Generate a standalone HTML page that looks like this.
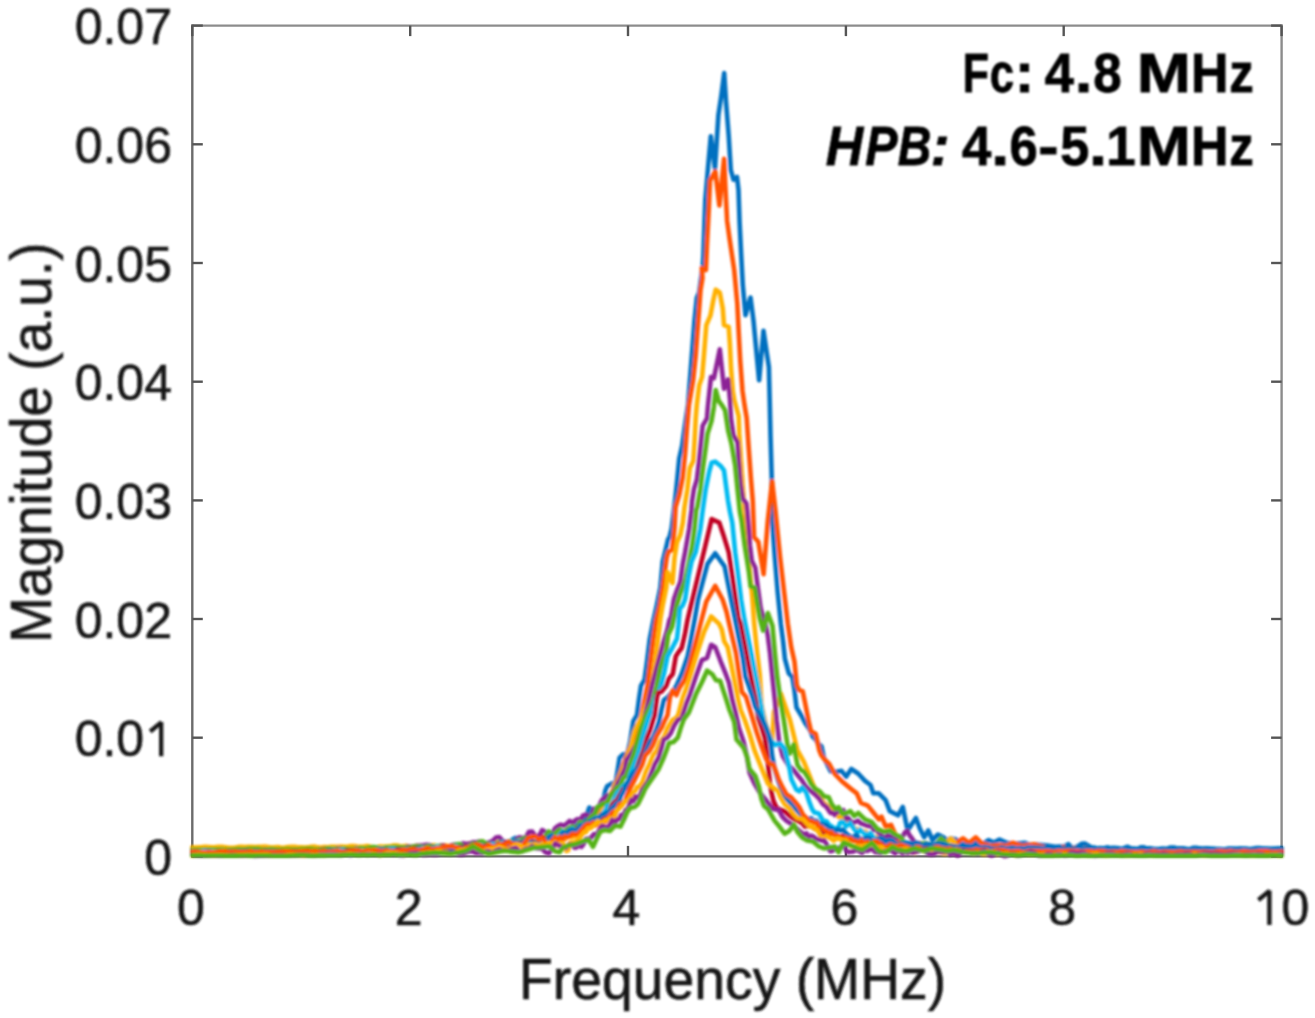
<!DOCTYPE html>
<html><head><meta charset="utf-8"><style>
html,body{margin:0;padding:0;background:#fff;width:1315px;height:1018px;overflow:hidden}
svg{display:block}
text{font-family:"Liberation Sans",sans-serif;stroke:#161616;stroke-width:0.6px}
</style></head><body>
<svg width="1315" height="1018" viewBox="0 0 1315 1018">
<defs>
<filter id="fc" x="-5%" y="-5%" width="110%" height="110%"><feGaussianBlur stdDeviation="0.9"/></filter>
<filter id="fa" x="-5%" y="-5%" width="110%" height="110%"><feGaussianBlur stdDeviation="0.7"/></filter>
<filter id="ft" x="-5%" y="-5%" width="110%" height="110%"><feGaussianBlur stdDeviation="0.8"/></filter>
</defs>
<rect width="1315" height="1018" fill="#fff"/>
<g filter="url(#fa)"><line x1="192.3" y1="25.6" x2="1281.6" y2="25.6" stroke="#8c8c8c" stroke-width="2.4" stroke-linecap="square"/><line x1="1281.6" y1="25.6" x2="1281.6" y2="856.4" stroke="#8c8c8c" stroke-width="2.4" stroke-linecap="square"/><line x1="192.3" y1="25.6" x2="192.3" y2="856.4" stroke="#6c6c6c" stroke-width="2.4" stroke-linecap="square"/><line x1="192.3" y1="856.4" x2="1281.6" y2="856.4" stroke="#6c6c6c" stroke-width="2.4" stroke-linecap="square"/><line x1="192.3" y1="856.4" x2="192.3" y2="845.9" stroke="#555555" stroke-width="2.4"/><line x1="192.3" y1="25.6" x2="192.3" y2="36.1" stroke="#555555" stroke-width="2.4"/><line x1="410.2" y1="856.4" x2="410.2" y2="845.9" stroke="#555555" stroke-width="2.4"/><line x1="410.2" y1="25.6" x2="410.2" y2="36.1" stroke="#555555" stroke-width="2.4"/><line x1="628.0" y1="856.4" x2="628.0" y2="845.9" stroke="#555555" stroke-width="2.4"/><line x1="628.0" y1="25.6" x2="628.0" y2="36.1" stroke="#555555" stroke-width="2.4"/><line x1="845.9" y1="856.4" x2="845.9" y2="845.9" stroke="#555555" stroke-width="2.4"/><line x1="845.9" y1="25.6" x2="845.9" y2="36.1" stroke="#555555" stroke-width="2.4"/><line x1="1063.7" y1="856.4" x2="1063.7" y2="845.9" stroke="#555555" stroke-width="2.4"/><line x1="1063.7" y1="25.6" x2="1063.7" y2="36.1" stroke="#555555" stroke-width="2.4"/><line x1="1281.6" y1="856.4" x2="1281.6" y2="845.9" stroke="#555555" stroke-width="2.4"/><line x1="1281.6" y1="25.6" x2="1281.6" y2="36.1" stroke="#555555" stroke-width="2.4"/><line x1="192.3" y1="856.4" x2="202.8" y2="856.4" stroke="#555555" stroke-width="2.4"/><line x1="1281.6" y1="856.4" x2="1271.1" y2="856.4" stroke="#555555" stroke-width="2.4"/><line x1="192.3" y1="737.7" x2="202.8" y2="737.7" stroke="#555555" stroke-width="2.4"/><line x1="1281.6" y1="737.7" x2="1271.1" y2="737.7" stroke="#555555" stroke-width="2.4"/><line x1="192.3" y1="619.0" x2="202.8" y2="619.0" stroke="#555555" stroke-width="2.4"/><line x1="1281.6" y1="619.0" x2="1271.1" y2="619.0" stroke="#555555" stroke-width="2.4"/><line x1="192.3" y1="500.4" x2="202.8" y2="500.4" stroke="#555555" stroke-width="2.4"/><line x1="1281.6" y1="500.4" x2="1271.1" y2="500.4" stroke="#555555" stroke-width="2.4"/><line x1="192.3" y1="381.7" x2="202.8" y2="381.7" stroke="#555555" stroke-width="2.4"/><line x1="1281.6" y1="381.7" x2="1271.1" y2="381.7" stroke="#555555" stroke-width="2.4"/><line x1="192.3" y1="263.0" x2="202.8" y2="263.0" stroke="#555555" stroke-width="2.4"/><line x1="1281.6" y1="263.0" x2="1271.1" y2="263.0" stroke="#555555" stroke-width="2.4"/><line x1="192.3" y1="144.3" x2="202.8" y2="144.3" stroke="#555555" stroke-width="2.4"/><line x1="1281.6" y1="144.3" x2="1271.1" y2="144.3" stroke="#555555" stroke-width="2.4"/><line x1="192.3" y1="25.6" x2="202.8" y2="25.6" stroke="#555555" stroke-width="2.4"/><line x1="1281.6" y1="25.6" x2="1271.1" y2="25.6" stroke="#555555" stroke-width="2.4"/></g>
<g filter="url(#fc)"><path d="M192.3 849.7 L195.6 850.1 L198.9 850.2 L202.2 849.7 L205.5 850.2 L208.8 850.2 L212.1 849.8 L215.4 849.7 L218.7 849.9 L222.0 849.8 L225.3 849.9 L228.6 849.8 L231.9 849.5 L235.2 849.9 L238.5 850.2 L241.8 850.3 L245.1 850.2 L248.4 850.1 L251.7 849.9 L255.0 849.5 L258.3 849.8 L261.6 850.2 L264.9 850.1 L268.2 849.5 L271.5 849.9 L274.8 849.9 L278.1 849.5 L281.4 849.3 L284.7 849.8 L288.0 849.5 L291.3 849.4 L294.6 849.2 L297.9 849.4 L301.2 849.3 L304.5 849.1 L307.8 848.9 L311.1 848.9 L314.4 849.7 L317.7 849.5 L321.0 848.9 L324.3 849.3 L327.6 849.5 L330.9 849.2 L334.2 849.8 L337.5 849.8 L340.8 849.6 L344.1 849.6 L347.4 848.8 L350.7 848.3 L354.0 848.5 L357.3 848.7 L360.6 849.2 L363.9 848.5 L367.2 848.6 L370.5 849.0 L373.8 848.0 L377.1 847.8 L380.4 848.3 L383.7 848.1 L387.0 847.7 L390.3 848.6 L393.6 848.7 L396.9 847.5 L400.2 847.1 L403.5 847.2 L406.8 847.8 L410.1 848.0 L413.4 847.7 L416.7 847.9 L420.0 847.3 L423.3 847.8 L426.6 846.8 L429.9 846.0 L433.2 846.2 L436.5 847.2 L439.8 847.5 L443.1 846.2 L446.4 846.6 L449.7 846.6 L453.0 846.5 L456.3 846.6 L459.6 845.9 L462.9 846.5 L466.2 845.4 L469.5 844.9 L472.8 845.1 L476.1 845.3 L479.4 845.8 L482.7 846.3 L486.0 845.6 L489.3 842.7 L492.6 842.3 L495.9 844.5 L499.2 844.3 L502.5 842.7 L505.8 844.4 L509.1 843.8 L512.4 839.6 L515.7 837.9 L519.0 838.8 L522.3 842.6 L525.6 842.6 L528.9 839.9 L532.2 840.5 L535.5 837.7 L538.8 837.5 L542.1 838.1 L545.4 836.9 L548.7 832.8 L552.0 832.6 L555.3 838.3 L558.6 838.5 L561.9 835.5 L565.2 835.9 L570.0 832.3 L572.8 829.5 L578.3 824.0 L583.8 821.3 L586.5 815.8 L589.3 807.5 L594.8 813.0 L599.6 807.5 L601.8 806.0 L603.5 799.6 L605.3 790.7 L607.1 786.3 L611.5 783.7 L615.9 781.9 L617.2 773.0 L618.6 764.2 L619.5 758.0 L623.0 754.5 L627.4 753.6 L630.1 742.1 L631.4 733.3 L633.3 721.1 L636.9 715.2 L639.2 697.5 L641.0 685.7 L644.5 679.8 L646.9 662.2 L649.8 638.6 L653.5 620.0 L656.8 605.2 L660.4 587.5 L662.7 561.6 L666.0 548.0 L668.0 539.2 L669.5 537.0 L671.6 528.6 L673.9 510.0 L675.6 495.2 L677.4 477.5 L679.2 458.7 L682.1 445.7 L685.0 425.0 L688.0 405.0 L690.9 367.5 L692.7 344.0 L694.5 320.4 L696.8 298.0 L699.1 292.7 L702.8 265.7 L703.4 254.9 L704.5 222.4 L705.3 200.0 L708.0 168.0 L710.8 136.4 L715.0 168.7 L718.4 115.0 L721.1 97.2 L724.2 73.1 L726.0 101.3 L728.7 135.7 L730.8 170.1 L733.5 179.7 L737.0 177.0 L738.5 190.0 L739.6 222.4 L741.2 254.9 L742.8 285.0 L745.5 315.2 L750.5 297.5 L753.5 320.8 L759.1 380.3 L763.5 330.8 L768.9 367.2 L769.7 400.0 L770.5 435.4 L771.8 480.2 L771.8 515.9 L774.8 557.2 L777.7 592.5 L780.8 623.6 L783.1 641.3 L784.9 658.9 L788.8 673.4 L792.3 677.0 L794.4 690.0 L796.5 707.5 L801.6 716.0 L805.1 723.0 L810.0 730.0 L812.8 736.9 L815.7 739.5 L818.3 743.8 L821.6 746.6 L823.8 757.5 L830.6 771.3 L836.6 771.8 L841.5 770.8 L846.1 776.7 L851.3 769.0 L858.1 773.5 L865.0 780.9 L870.5 785.0 L873.3 793.3 L878.8 793.3 L885.6 800.1 L889.8 811.1 L898.0 815.3 L902.8 807.0 L907.6 830.4 L915.9 818.0 L920.0 829.0 L924.2 837.3 L928.3 830.4 L932.4 840.0 L937.9 834.5 L943.4 837.3 L946.6 840.1 L951.0 838.5 L955.7 839.2 L961.2 843.8 L970.0 844.5 L978.0 842.5 L983.0 844.0 L988.5 840.1 L994.0 842.5 L999.5 839.5 L1006.8 842.9 L1015.0 843.8 L1025.0 842.8 L1030.0 845.0 L1036.0 844.5 L1047.0 845.6 L1055.0 846.8 L1065.0 846.2 L1068.3 844.2 L1071.6 847.6 L1074.9 847.9 L1078.2 846.1 L1081.5 843.9 L1084.8 843.6 L1088.1 845.4 L1091.4 847.5 L1094.7 847.6 L1098.0 848.9 L1101.3 849.9 L1104.6 848.0 L1107.9 847.3 L1111.2 850.0 L1114.5 850.5 L1117.8 849.2 L1121.1 849.7 L1124.4 848.0 L1127.7 846.7 L1131.0 848.5 L1134.3 850.2 L1137.6 849.3 L1140.9 847.2 L1144.2 847.3 L1147.5 849.8 L1150.8 849.7 L1154.1 849.3 L1157.4 849.9 L1160.7 850.4 L1164.0 849.9 L1167.3 848.6 L1170.6 847.5 L1173.9 847.6 L1177.2 848.4 L1180.5 848.7 L1183.8 849.6 L1187.1 849.3 L1190.4 849.2 L1193.7 847.7 L1197.0 847.9 L1200.3 849.5 L1203.6 849.2 L1206.9 848.6 L1210.2 849.0 L1213.5 848.8 L1216.8 849.3 L1220.1 849.9 L1223.4 849.5 L1226.7 849.4 L1230.0 849.0 L1233.3 848.9 L1236.6 849.0 L1239.9 848.6 L1243.2 849.2 L1246.5 850.0 L1249.8 849.7 L1253.1 848.8 L1256.4 848.1 L1259.7 848.1 L1263.0 848.6 L1266.3 848.6 L1269.6 848.7 L1272.9 848.8 L1276.2 849.2 L1279.5 848.8 L1281.6 849.1" fill="none" stroke="#0070C0" stroke-width="4.6" stroke-linejoin="round" stroke-linecap="round"/>
<path d="M192.3 850.7 L195.6 850.5 L198.9 850.4 L202.2 850.8 L205.5 851.0 L208.8 851.1 L212.1 851.1 L215.4 850.7 L218.7 850.3 L222.0 850.5 L225.3 851.0 L228.6 850.8 L231.9 850.9 L235.2 851.1 L238.5 851.0 L241.8 850.5 L245.1 850.7 L248.4 851.0 L251.7 851.1 L255.0 850.8 L258.3 851.2 L261.6 851.2 L264.9 850.9 L268.2 850.9 L271.5 851.1 L274.8 850.7 L278.1 850.5 L281.4 850.7 L284.7 850.4 L288.0 850.7 L291.3 850.8 L294.6 850.6 L297.9 851.0 L301.2 850.6 L304.5 850.1 L307.8 850.4 L311.1 850.7 L314.4 850.2 L317.7 850.6 L321.0 850.6 L324.3 850.9 L327.6 850.7 L330.9 849.9 L334.2 849.9 L337.5 850.1 L340.8 850.3 L344.1 850.3 L347.4 849.5 L350.7 849.5 L354.0 850.3 L357.3 850.7 L360.6 850.5 L363.9 849.6 L367.2 849.8 L370.5 849.3 L373.8 849.7 L377.1 849.6 L380.4 850.1 L383.7 849.9 L387.0 849.2 L390.3 849.0 L393.6 849.7 L396.9 849.5 L400.2 849.5 L403.5 848.4 L406.8 848.1 L410.1 847.7 L413.4 848.3 L416.7 849.3 L420.0 848.2 L423.3 847.1 L426.6 847.8 L429.9 848.8 L433.2 849.0 L436.5 848.6 L439.8 847.1 L443.1 847.2 L446.4 847.2 L449.7 847.1 L453.0 846.9 L456.3 846.2 L459.6 847.9 L462.9 848.2 L466.2 846.9 L469.5 845.0 L472.8 844.1 L476.1 846.0 L479.4 848.1 L482.7 848.4 L486.0 847.9 L489.3 847.7 L492.6 845.9 L495.9 844.0 L499.2 845.2 L502.5 845.6 L505.8 845.2 L509.1 845.6 L512.4 846.0 L515.7 845.2 L519.0 842.9 L522.3 842.8 L525.6 839.5 L528.9 841.3 L532.2 841.1 L535.5 838.4 L538.8 838.3 L542.1 838.3 L545.4 840.2 L548.7 839.7 L552.0 839.7 L555.0 836.0 L557.3 837.6 L559.7 835.7 L562.0 838.0 L564.7 839.1 L567.3 832.0 L570.0 834.0 L572.7 833.0 L575.3 829.8 L578.0 829.0 L580.3 830.8 L582.7 823.7 L585.0 825.0 L587.3 821.2 L589.7 819.3 L592.0 820.0 L595.0 814.8 L598.0 813.0 L601.0 809.7 L604.0 803.0 L607.0 796.3 L610.0 795.0 L612.5 791.2 L615.0 786.0 L620.0 774.0 L625.0 760.0 L629.0 750.0 L633.0 742.0 L636.5 734.0 L640.4 721.1 L643.9 703.4 L647.5 685.7 L650.4 662.2 L653.4 638.6 L656.2 620.0 L659.8 605.2 L662.7 587.5 L665.1 569.8 L666.8 556.9 L668.6 551.6 L672.2 549.8 L674.5 528.6 L675.6 507.0 L679.2 495.2 L682.7 477.5 L685.1 453.9 L686.8 430.4 L688.9 405.0 L693.3 379.3 L695.7 355.8 L697.4 332.2 L699.2 308.6 L700.5 290.0 L702.5 278.0 L701.8 268.0 L705.9 270.0 L707.0 244.3 L708.8 208.9 L710.0 180.6 L715.3 171.5 L719.4 205.4 L724.1 158.8 L725.3 185.4 L727.1 220.7 L729.5 238.4 L734.2 270.0 L737.3 303.6 L738.7 332.2 L740.2 360.0 L742.5 391.0 L744.5 405.0 L746.7 418.0 L748.5 445.0 L750.8 477.0 L752.8 501.1 L754.1 537.1 L758.3 541.8 L763.6 574.2 L767.7 521.8 L772.1 481.3 L775.4 510.0 L780.1 557.2 L784.6 596.0 L787.8 623.6 L791.2 647.0 L794.5 661.8 L796.8 685.3 L799.2 690.1 L802.7 691.2 L805.1 703.0 L808.6 720.7 L811.0 731.3 L815.7 733.7 L819.2 750.1 L821.0 754.8 L825.0 760.0 L829.3 764.0 L834.8 774.0 L843.0 782.3 L851.3 789.1 L856.8 793.3 L860.9 802.9 L867.8 805.6 L873.3 812.5 L878.8 819.4 L881.5 816.6 L885.6 826.3 L891.1 824.9 L895.3 834.5 L898.0 841.0 L904.0 844.0 L910.0 845.5 L920.0 843.5 L930.0 846.0 L940.0 844.0 L950.0 845.5 L956.0 843.0 L963.0 838.3 L969.0 843.0 L975.8 837.4 L981.2 842.9 L990.0 846.0 L1000.0 845.0 L1006.0 846.0 L1012.5 842.8 L1022.0 846.0 L1034.4 844.2 L1045.0 848.0 L1060.0 849.5 L1063.3 847.2 L1066.6 851.9 L1069.9 852.1 L1073.2 848.4 L1076.5 848.2 L1079.8 850.6 L1083.1 848.8 L1086.4 848.7 L1089.7 848.3 L1093.0 848.5 L1096.3 850.9 L1099.6 851.9 L1102.9 851.0 L1106.2 851.0 L1109.5 849.6 L1112.8 849.3 L1116.1 849.9 L1119.4 849.9 L1122.7 851.7 L1126.0 851.0 L1129.3 851.7 L1132.6 851.1 L1135.9 850.8 L1139.2 850.0 L1142.5 849.8 L1145.8 850.5 L1149.1 850.4 L1152.4 849.7 L1155.7 851.0 L1159.0 851.0 L1162.3 851.8 L1165.6 852.6 L1168.9 852.7 L1172.2 851.4 L1175.5 850.5 L1178.8 850.2 L1182.1 851.1 L1185.4 851.2 L1188.7 851.1 L1192.0 850.8 L1195.3 850.4 L1198.6 850.6 L1201.9 850.8 L1205.2 851.7 L1208.5 850.6 L1211.8 850.5 L1215.1 850.6 L1218.4 850.6 L1221.7 851.1 L1225.0 850.6 L1228.3 850.0 L1231.6 850.4 L1234.9 851.0 L1238.2 850.8 L1241.5 850.3 L1244.8 850.4 L1248.1 850.7 L1251.4 851.7 L1254.7 851.6 L1258.0 852.1 L1261.3 851.9 L1264.6 851.3 L1267.9 851.7 L1271.2 851.7 L1274.5 851.9 L1277.8 852.1 L1281.1 851.5 L1281.6 851.5" fill="none" stroke="#FF5200" stroke-width="4.6" stroke-linejoin="round" stroke-linecap="round"/>
<path d="M192.3 847.3 L195.6 847.5 L198.9 847.3 L202.2 847.1 L205.5 846.8 L208.8 847.0 L212.1 847.2 L215.4 847.1 L218.7 846.8 L222.0 846.9 L225.3 847.2 L228.6 847.7 L231.9 847.8 L235.2 847.6 L238.5 846.9 L241.8 846.9 L245.1 847.1 L248.4 846.8 L251.7 846.9 L255.0 847.1 L258.3 846.7 L261.6 846.8 L264.9 846.6 L268.2 847.0 L271.5 847.5 L274.8 847.2 L278.1 847.1 L281.4 847.7 L284.7 847.6 L288.0 847.0 L291.3 846.9 L294.6 846.9 L297.9 847.3 L301.2 847.3 L304.5 847.5 L307.8 847.4 L311.1 846.7 L314.4 846.6 L317.7 847.4 L321.0 847.5 L324.3 847.0 L327.6 847.2 L330.9 846.7 L334.2 846.7 L337.5 846.9 L340.8 846.6 L344.1 846.8 L347.4 846.7 L350.7 846.1 L354.0 846.1 L357.3 846.6 L360.6 846.8 L363.9 846.6 L367.2 846.1 L370.5 846.7 L373.8 847.6 L377.1 847.2 L380.4 846.6 L383.7 846.8 L387.0 846.6 L390.3 846.4 L393.6 845.6 L396.9 845.5 L400.2 846.5 L403.5 846.2 L406.8 845.8 L410.1 847.1 L413.4 846.7 L416.7 845.8 L420.0 846.2 L423.3 846.8 L426.6 846.4 L429.9 846.1 L433.2 845.2 L436.5 846.3 L439.8 846.1 L443.1 845.3 L446.4 845.6 L449.7 847.0 L453.0 847.0 L456.3 845.6 L459.6 846.0 L462.9 845.1 L466.2 844.5 L469.5 843.3 L472.8 843.8 L476.1 844.0 L479.4 843.5 L482.7 846.0 L486.0 846.8 L489.3 846.5 L492.6 844.4 L495.9 842.3 L499.2 842.0 L502.5 841.3 L505.8 842.7 L509.1 842.8 L512.4 842.3 L515.7 844.6 L519.0 845.7 L522.3 846.0 L525.6 843.2 L528.9 841.8 L532.2 839.3 L535.5 840.4 L538.8 842.3 L542.1 841.0 L545.4 842.9 L548.7 840.6 L552.0 835.8 L555.0 840.0 L557.8 837.2 L560.5 840.7 L563.2 837.0 L566.0 838.0 L568.5 835.9 L571.0 837.1 L573.5 836.9 L576.0 833.0 L579.0 831.1 L582.0 831.8 L585.0 827.0 L587.5 824.1 L590.0 820.7 L592.5 821.9 L595.0 818.0 L597.7 817.4 L600.3 813.1 L603.0 807.0 L605.3 802.8 L607.7 797.3 L610.0 795.0 L612.3 792.5 L614.7 784.1 L617.0 783.0 L623.0 768.0 L627.0 757.0 L630.9 746.5 L632.7 737.7 L635.0 730.0 L640.0 720.0 L643.9 711.0 L647.5 701.0 L651.6 685.7 L655.1 662.2 L658.1 638.6 L660.5 618.0 L662.7 605.2 L666.3 587.5 L667.5 572.0 L672.5 583.0 L674.5 558.0 L676.9 542.7 L680.4 534.5 L682.8 522.7 L684.5 507.0 L687.4 489.3 L689.8 468.1 L693.3 461.0 L694.5 442.2 L695.7 418.6 L696.8 405.0 L699.2 385.2 L702.1 377.0 L703.9 355.8 L706.3 325.1 L710.4 315.7 L713.3 300.3 L715.7 289.7 L719.8 292.7 L722.8 308.6 L724.0 325.1 L728.7 326.9 L729.9 344.0 L731.0 367.5 L732.8 391.1 L734.3 400.0 L738.7 416.2 L739.3 433.9 L741.0 460.0 L743.0 490.0 L745.5 520.0 L748.0 550.0 L750.5 578.0 L752.5 600.0 L754.2 623.6 L757.2 653.0 L759.8 675.0 L761.5 705.0 L766.0 725.0 L772.0 742.0 L774.0 712.0 L781.0 694.0 L790.0 720.0 L797.4 750.1 L803.9 761.9 L809.1 774.7 L813.0 784.6 L818.0 795.0 L824.0 803.0 L830.0 808.0 L832.9 811.9 L835.7 813.1 L838.6 817.0 L841.8 818.4 L845.0 820.0 L847.3 821.2 L849.7 823.7 L852.0 826.0 L854.7 828.7 L857.3 829.1 L860.0 830.0 L862.7 831.4 L865.3 831.5 L868.0 834.0 L870.7 836.6 L873.3 836.7 L876.0 837.0 L878.7 837.9 L881.3 837.3 L884.0 840.0 L886.7 840.9 L889.3 843.2 L892.0 842.0 L894.7 845.0 L897.3 843.1 L900.0 846.0 L902.5 845.5 L905.0 845.0 L907.5 849.3 L910.0 848.0 L912.5 849.3 L915.0 845.5 L917.5 846.0 L920.0 847.0 L922.5 847.5 L925.0 846.5 L927.5 847.0 L930.0 849.0 L932.5 849.9 L935.0 849.9 L937.5 848.2 L940.0 847.0 L943.0 845.4 L946.0 845.0 L948.5 840.2 L951.0 838.5 L953.5 840.8 L956.0 846.0 L959.0 847.6 L962.0 850.0 L965.0 849.0 L968.3 848.3 L971.6 847.6 L974.9 848.7 L978.2 850.5 L981.5 847.7 L984.8 849.0 L988.1 850.2 L991.4 849.6 L994.7 852.5 L998.0 853.0 L1001.3 850.9 L1004.6 848.6 L1007.9 848.4 L1011.2 848.5 L1014.5 848.2 L1017.8 848.8 L1021.1 851.7 L1024.4 851.4 L1027.7 849.7 L1031.0 851.7 L1034.3 851.8 L1037.6 851.9 L1040.9 850.9 L1044.2 851.2 L1047.5 849.5 L1050.8 849.3 L1054.1 850.8 L1057.4 851.4 L1060.7 851.1 L1064.0 851.6 L1067.3 851.2 L1070.6 852.0 L1073.9 851.6 L1077.2 852.1 L1080.5 851.6 L1083.8 850.0 L1087.1 849.5 L1090.4 850.7 L1093.7 851.7 L1097.0 851.4 L1100.3 851.3 L1103.6 851.0 L1106.9 851.7 L1110.2 850.9 L1113.5 850.1 L1116.8 849.8 L1120.1 850.0 L1123.4 850.0 L1126.7 849.9 L1130.0 850.0 L1133.3 851.3 L1136.6 851.8 L1139.9 851.5 L1143.2 852.3 L1146.5 852.4 L1149.8 851.6 L1153.1 851.3 L1156.4 851.7 L1159.7 851.0 L1163.0 850.9 L1166.3 851.7 L1169.6 851.6 L1172.9 851.7 L1176.2 851.4 L1179.5 851.3 L1182.8 850.7 L1186.1 851.1 L1189.4 852.0 L1192.7 852.0 L1196.0 851.6 L1199.3 851.6 L1202.6 852.1 L1205.9 852.0 L1209.2 851.2 L1212.5 851.0 L1215.8 851.1 L1219.1 851.3 L1222.4 851.8 L1225.7 851.6 L1229.0 851.8 L1232.3 851.8 L1235.6 851.3 L1238.9 851.1 L1242.2 851.3 L1245.5 851.9 L1248.8 852.1 L1252.1 851.9 L1255.4 851.5 L1258.7 851.6 L1262.0 851.8 L1265.3 851.4 L1268.6 851.4 L1271.9 851.4 L1275.2 851.5 L1278.5 851.5 L1281.6 851.8" fill="none" stroke="#FFB000" stroke-width="4.6" stroke-linejoin="round" stroke-linecap="round"/>
<path d="M192.3 850.8 L195.6 850.6 L198.9 850.5 L202.2 850.3 L205.5 850.1 L208.8 850.6 L212.1 850.6 L215.4 850.2 L218.7 850.4 L222.0 850.5 L225.3 850.6 L228.6 850.7 L231.9 850.6 L235.2 850.2 L238.5 850.2 L241.8 850.3 L245.1 849.7 L248.4 849.4 L251.7 849.7 L255.0 850.2 L258.3 850.0 L261.6 849.7 L264.9 849.5 L268.2 849.7 L271.5 850.2 L274.8 849.9 L278.1 850.3 L281.4 850.1 L284.7 849.5 L288.0 849.4 L291.3 850.0 L294.6 850.0 L297.9 850.1 L301.2 849.6 L304.5 849.9 L307.8 850.1 L311.1 850.1 L314.4 849.8 L317.7 849.8 L321.0 849.4 L324.3 849.0 L327.6 848.9 L330.9 849.3 L334.2 849.4 L337.5 848.6 L340.8 848.8 L344.1 849.6 L347.4 849.4 L350.7 849.2 L354.0 849.0 L357.3 848.4 L360.6 848.5 L363.9 848.7 L367.2 849.0 L370.5 848.8 L373.8 849.0 L377.1 849.2 L380.4 848.7 L383.7 848.8 L387.0 848.7 L390.3 848.9 L393.6 848.0 L396.9 847.6 L400.2 848.5 L403.5 848.1 L406.8 846.8 L410.1 846.8 L413.4 846.7 L416.7 845.8 L420.0 845.6 L423.3 845.3 L426.6 844.9 L429.9 845.3 L433.2 847.0 L436.5 847.1 L439.8 845.9 L443.1 845.5 L446.4 846.5 L449.7 846.2 L453.0 844.8 L456.3 844.6 L459.6 845.2 L462.9 843.2 L466.2 843.9 L469.5 843.7 L472.8 842.4 L476.1 842.2 L479.4 841.5 L482.7 842.7 L486.0 843.0 L489.3 842.6 L492.6 840.9 L495.9 837.6 L499.2 837.1 L502.5 840.8 L505.8 842.5 L509.1 841.4 L512.4 841.9 L515.7 840.6 L519.0 837.4 L522.3 837.7 L525.6 837.8 L528.9 831.9 L532.2 831.6 L535.5 836.4 L538.8 836.3 L542.1 830.1 L545.4 831.7 L548.7 835.3 L552.0 834.2 L555.0 828.4 L557.9 826.1 L560.8 824.6 L563.6 825.7 L566.5 823.9 L569.6 820.9 L572.7 823.0 L575.1 820.4 L577.6 819.0 L580.0 820.0 L582.9 815.7 L585.7 814.5 L588.6 816.0 L591.3 816.9 L593.9 808.7 L596.6 809.8 L599.2 805.6 L601.9 800.0 L604.5 798.3 L607.1 795.7 L609.8 796.5 L611.9 794.0 L614.0 790.0 L619.5 780.1 L624.8 768.6 L626.5 759.8 L632.0 752.0 L636.0 745.0 L639.0 738.0 L642.8 730.0 L645.1 715.2 L649.2 697.5 L653.4 679.8 L658.1 662.2 L662.8 644.5 L667.5 629.1 L669.4 620.0 L671.0 617.0 L673.9 599.3 L676.3 592.2 L680.4 581.6 L682.8 564.0 L685.1 552.2 L689.2 528.6 L691.5 510.0 L692.1 501.1 L693.9 489.3 L696.8 479.9 L699.2 459.8 L701.6 436.3 L702.7 425.6 L706.9 418.6 L708.0 405.0 L711.0 377.0 L713.9 378.2 L719.8 349.3 L724.0 388.8 L728.1 379.3 L730.0 400.0 L731.0 418.6 L733.4 435.1 L737.5 442.2 L738.7 459.8 L740.5 483.4 L742.8 498.7 L746.4 503.5 L747.3 512.0 L750.0 545.4 L751.8 560.7 L755.3 567.8 L757.7 586.6 L760.6 607.8 L763.0 616.1 L765.4 623.6 L767.8 635.4 L770.0 653.0 L772.3 676.0 L774.7 699.0 L776.7 720.5 L779.2 741.9 L782.7 756.0 L788.6 765.5 L793.4 769.8 L797.3 774.7 L801.3 779.6 L805.2 785.5 L810.1 790.5 L815.0 794.4 L818.9 798.3 L822.9 804.2 L826.8 807.2 L828.8 810.5 L830.7 813.0 L832.7 812.8 L834.7 815.0 L836.9 811.7 L839.0 812.0 L841.2 810.4 L843.5 810.1 L846.4 818.9 L848.4 818.2 L850.4 820.9 L852.7 823.3 L855.0 822.0 L858.0 820.7 L860.9 823.5 L863.6 824.3 L866.4 825.5 L869.1 826.3 L871.4 825.0 L873.7 830.0 L876.0 829.0 L878.3 832.6 L880.6 833.7 L882.9 837.3 L885.3 838.0 L887.6 835.0 L890.0 836.0 L892.3 835.9 L894.7 837.0 L897.0 838.0 L900.0 836.7 L903.0 836.0 L905.1 832.0 L907.3 831.0 L909.6 835.4 L911.9 838.3 L915.0 842.8 L918.0 843.0 L920.3 843.3 L922.7 845.8 L925.0 846.0 L927.5 847.8 L930.0 844.7 L932.5 849.2 L935.0 847.5 L937.5 849.1 L940.0 849.1 L942.5 850.7 L945.0 849.0 L947.5 848.3 L950.0 850.1 L952.5 847.8 L955.0 850.0 L958.3 849.4 L961.6 851.0 L964.9 849.1 L968.2 849.9 L971.5 853.5 L974.8 853.9 L978.1 852.0 L981.4 852.4 L984.7 852.4 L988.0 848.8 L991.3 848.6 L994.6 850.5 L997.9 853.2 L1001.2 853.7 L1004.5 852.7 L1007.8 852.2 L1011.1 850.1 L1014.4 851.0 L1017.7 851.8 L1021.0 851.8 L1024.3 850.2 L1027.6 850.0 L1030.9 850.9 L1034.2 851.7 L1037.5 851.1 L1040.8 851.5 L1044.1 852.3 L1047.4 853.0 L1050.7 853.4 L1054.0 851.5 L1057.3 851.0 L1060.6 853.0 L1063.9 853.3 L1067.2 853.2 L1070.5 852.5 L1073.8 852.2 L1077.1 851.9 L1080.4 852.8 L1083.7 852.8 L1087.0 852.4 L1090.3 852.5 L1093.6 852.1 L1096.9 851.3 L1100.2 851.6 L1103.5 852.2 L1106.8 853.0 L1110.1 852.4 L1113.4 851.4 L1116.7 851.4 L1120.0 851.2 L1123.3 851.5 L1126.6 852.4 L1129.9 852.4 L1133.2 852.3 L1136.5 851.8 L1139.8 852.5 L1143.1 853.5 L1146.4 853.5 L1149.7 853.2 L1153.0 853.1 L1156.3 852.0 L1159.6 852.0 L1162.9 852.9 L1166.2 853.0 L1169.5 852.1 L1172.8 852.7 L1176.1 852.9 L1179.4 852.4 L1182.7 852.1 L1186.0 852.8 L1189.3 853.4 L1192.6 853.2 L1195.9 852.5 L1199.2 852.5 L1202.5 852.7 L1205.8 852.8 L1209.1 852.3 L1212.4 851.9 L1215.7 851.7 L1219.0 852.0 L1222.3 852.9 L1225.6 853.3 L1228.9 853.0 L1232.2 852.1 L1235.5 852.1 L1238.8 852.3 L1242.1 852.1 L1245.4 852.5 L1248.7 852.8 L1252.0 852.7 L1255.3 852.5 L1258.6 852.4 L1261.9 852.7 L1265.2 852.9 L1268.5 852.5 L1271.8 852.5 L1275.1 852.8 L1278.4 852.4 L1281.6 851.8" fill="none" stroke="#8C2496" stroke-width="4.6" stroke-linejoin="round" stroke-linecap="round"/>
<path d="M192.3 849.8 L195.6 849.8 L198.9 849.8 L202.2 849.8 L205.5 849.9 L208.8 849.5 L212.1 849.5 L215.4 849.5 L218.7 849.4 L222.0 849.4 L225.3 849.7 L228.6 849.8 L231.9 849.7 L235.2 849.4 L238.5 849.1 L241.8 849.4 L245.1 849.2 L248.4 848.8 L251.7 848.9 L255.0 848.9 L258.3 848.8 L261.6 849.3 L264.9 849.7 L268.2 849.4 L271.5 849.1 L274.8 849.2 L278.1 849.6 L281.4 849.6 L284.7 849.2 L288.0 849.1 L291.3 849.6 L294.6 849.6 L297.9 849.5 L301.2 849.0 L304.5 849.1 L307.8 848.9 L311.1 848.9 L314.4 849.3 L317.7 849.4 L321.0 849.7 L324.3 849.3 L327.6 848.4 L330.9 848.6 L334.2 848.7 L337.5 849.2 L340.8 849.1 L344.1 848.6 L347.4 849.1 L350.7 849.0 L354.0 849.1 L357.3 848.7 L360.6 848.0 L363.9 848.2 L367.2 848.0 L370.5 847.3 L373.8 847.1 L377.1 847.5 L380.4 848.5 L383.7 848.0 L387.0 847.3 L390.3 847.2 L393.6 847.1 L396.9 847.1 L400.2 847.2 L403.5 847.4 L406.8 847.7 L410.1 847.9 L413.4 846.6 L416.7 846.5 L420.0 846.8 L423.3 847.6 L426.6 846.6 L429.9 846.2 L433.2 846.9 L436.5 846.0 L439.8 846.4 L443.1 847.1 L446.4 847.2 L449.7 846.0 L453.0 845.7 L456.3 844.6 L459.6 844.0 L462.9 846.1 L466.2 847.1 L469.5 846.1 L472.8 843.8 L476.1 844.1 L479.4 841.8 L482.7 841.4 L486.0 843.9 L489.3 844.3 L492.6 844.3 L495.9 844.8 L499.2 842.6 L502.5 842.9 L505.8 843.5 L509.1 841.5 L512.4 841.1 L515.7 842.1 L519.0 840.1 L522.3 839.6 L525.6 837.8 L528.9 840.1 L532.2 840.6 L535.5 837.6 L538.8 839.7 L542.1 841.5 L545.4 836.5 L548.7 831.5 L552.0 834.7 L555.0 834.0 L557.5 831.3 L560.0 829.5 L562.5 831.4 L565.0 831.0 L567.5 829.2 L570.0 827.4 L572.5 826.6 L575.0 828.0 L577.5 828.0 L580.0 822.1 L582.5 824.2 L585.0 822.0 L587.3 822.1 L589.7 818.6 L592.0 816.0 L594.7 814.9 L597.3 806.9 L600.0 806.0 L602.9 803.6 L605.9 804.3 L608.8 799.6 L611.4 794.2 L614.0 792.0 L617.1 787.4 L620.3 786.3 L623.0 778.4 L626.5 775.7 L630.1 764.2 L633.6 755.4 L637.1 742.1 L640.7 728.8 L644.0 720.0 L647.5 712.0 L651.0 705.0 L653.4 699.9 L656.9 685.7 L660.4 668.0 L666.3 650.4 L668.1 635.0 L672.2 626.8 L673.6 620.0 L676.9 605.2 L680.4 593.4 L685.1 581.6 L688.7 564.0 L692.2 546.3 L694.6 528.6 L696.3 510.0 L697.4 507.0 L700.4 489.3 L703.3 465.7 L705.7 448.0 L707.5 433.9 L711.6 420.9 L713.9 406.8 L715.7 390.0 L718.7 400.9 L722.2 405.6 L725.1 410.3 L728.1 430.4 L731.6 444.5 L735.2 465.7 L737.5 489.3 L739.9 512.0 L741.5 520.0 L744.7 545.4 L748.8 571.3 L750.6 586.6 L754.7 587.8 L757.7 607.0 L759.6 617.7 L763.1 630.6 L767.8 613.0 L772.5 625.9 L774.9 653.0 L777.2 676.6 L780.5 700.0 L783.9 720.7 L787.4 744.3 L789.8 753.7 L793.9 744.3 L795.7 756.0 L797.5 765.0 L801.0 770.0 L804.2 771.8 L808.1 777.7 L811.1 783.6 L815.0 788.5 L819.9 791.4 L823.9 796.3 L828.8 797.3 L831.7 804.2 L835.6 809.1 L838.6 807.2 L842.5 814.0 L846.4 813.0 L850.4 811.1 L854.3 816.0 L858.2 813.0 L865.0 819.4 L871.9 822.1 L877.4 829.0 L884.3 831.8 L889.8 830.4 L895.3 834.5 L900.8 837.3 L904.6 842.9 L915.0 845.0 L925.0 843.0 L935.0 846.0 L941.1 838.3 L948.0 845.0 L958.0 847.5 L970.0 849.5 L973.3 848.0 L976.6 849.5 L979.9 850.0 L983.2 851.4 L986.5 849.4 L989.8 850.8 L993.1 849.9 L996.4 851.1 L999.7 851.0 L1003.0 848.5 L1006.3 849.2 L1009.6 851.5 L1012.9 851.6 L1016.2 850.6 L1019.5 850.5 L1022.8 851.5 L1026.1 851.9 L1029.4 850.1 L1032.7 851.0 L1036.0 851.2 L1039.3 851.0 L1042.6 849.8 L1045.9 850.8 L1049.2 850.6 L1052.5 849.4 L1055.8 849.3 L1059.1 850.4 L1062.4 851.3 L1065.7 851.5 L1069.0 852.1 L1072.3 852.3 L1075.6 852.6 L1078.9 853.3 L1082.2 852.7 L1085.5 851.2 L1088.8 851.5 L1092.1 851.2 L1095.4 852.7 L1098.7 853.3 L1102.0 852.2 L1105.3 851.5 L1108.6 851.9 L1111.9 852.3 L1115.2 852.3 L1118.5 851.4 L1121.8 851.7 L1125.1 851.6 L1128.4 851.1 L1131.7 851.5 L1135.0 851.8 L1138.3 851.8 L1141.6 852.6 L1144.9 852.8 L1148.2 853.2 L1151.5 852.9 L1154.8 852.3 L1158.1 852.5 L1161.4 851.9 L1164.7 851.7 L1168.0 851.9 L1171.3 851.2 L1174.6 851.3 L1177.9 852.3 L1181.2 851.8 L1184.5 851.8 L1187.8 851.9 L1191.1 852.2 L1194.4 852.7 L1197.7 852.5 L1201.0 851.5 L1204.3 851.2 L1207.6 851.8 L1210.9 852.2 L1214.2 852.4 L1217.5 852.6 L1220.8 852.7 L1224.1 852.0 L1227.4 851.7 L1230.7 851.7 L1234.0 851.9 L1237.3 851.4 L1240.6 851.4 L1243.9 851.7 L1247.2 851.3 L1250.5 851.4 L1253.8 852.0 L1257.1 852.3 L1260.4 852.2 L1263.7 852.3 L1267.0 852.3 L1270.3 851.6 L1273.6 851.8 L1276.9 851.9 L1280.2 852.2 L1281.6 851.8" fill="none" stroke="#55B214" stroke-width="4.6" stroke-linejoin="round" stroke-linecap="round"/>
<path d="M192.3 851.2 L195.6 851.3 L198.9 851.8 L202.2 851.5 L205.5 851.0 L208.8 851.2 L212.1 851.6 L215.4 851.8 L218.7 851.4 L222.0 851.1 L225.3 851.2 L228.6 851.7 L231.9 851.5 L235.2 851.5 L238.5 852.0 L241.8 852.0 L245.1 852.0 L248.4 851.7 L251.7 851.3 L255.0 851.8 L258.3 852.2 L261.6 852.0 L264.9 851.3 L268.2 851.6 L271.5 852.0 L274.8 851.8 L278.1 851.3 L281.4 851.2 L284.7 851.2 L288.0 851.3 L291.3 851.3 L294.6 851.5 L297.9 851.6 L301.2 851.5 L304.5 851.5 L307.8 851.7 L311.1 851.4 L314.4 851.4 L317.7 851.9 L321.0 851.7 L324.3 851.3 L327.6 851.3 L330.9 851.6 L334.2 850.9 L337.5 850.4 L340.8 850.4 L344.1 850.4 L347.4 851.3 L350.7 851.3 L354.0 850.2 L357.3 849.9 L360.6 850.5 L363.9 851.0 L367.2 850.6 L370.5 850.2 L373.8 850.8 L377.1 850.1 L380.4 849.5 L383.7 849.8 L387.0 849.8 L390.3 849.2 L393.6 849.4 L396.9 849.3 L400.2 849.3 L403.5 849.2 L406.8 848.9 L410.1 849.3 L413.4 849.7 L416.7 849.0 L420.0 848.8 L423.3 848.2 L426.6 848.7 L429.9 849.1 L433.2 848.1 L436.5 847.1 L439.8 847.4 L443.1 848.3 L446.4 848.1 L449.7 846.8 L453.0 846.3 L456.3 846.4 L459.6 847.4 L462.9 847.0 L466.2 848.5 L469.5 848.3 L472.8 846.6 L476.1 846.5 L479.4 844.8 L482.7 845.7 L486.0 846.7 L489.3 845.3 L492.6 843.8 L495.9 845.3 L499.2 844.9 L502.5 842.4 L505.8 842.0 L509.1 843.6 L512.4 841.4 L515.7 842.3 L519.0 841.3 L522.3 843.3 L525.6 842.9 L528.9 839.3 L532.2 837.8 L535.5 837.4 L538.8 840.2 L542.1 841.3 L545.4 839.9 L548.7 842.3 L552.0 842.3 L555.3 839.3 L560.0 835.0 L562.5 832.0 L565.0 835.2 L567.5 833.7 L570.0 832.0 L572.5 828.6 L575.0 831.6 L577.5 832.0 L580.0 828.0 L582.5 824.8 L585.0 825.0 L587.5 825.3 L590.0 824.0 L592.5 822.8 L595.0 818.7 L597.5 817.5 L600.0 817.0 L602.5 814.3 L605.0 810.5 L607.5 806.0 L610.0 806.0 L612.5 803.9 L615.0 798.0 L617.6 792.4 L620.3 790.7 L622.1 787.4 L624.0 786.0 L628.3 781.9 L630.9 773.0 L634.5 764.2 L638.0 755.4 L641.6 742.1 L645.1 728.8 L648.5 718.0 L652.2 709.3 L655.7 697.5 L660.4 688.1 L664.0 673.9 L667.5 656.3 L672.2 648.0 L677.0 638.6 L678.5 625.0 L679.8 608.7 L682.8 605.2 L685.1 599.3 L688.7 575.7 L691.6 561.6 L695.7 552.2 L700.4 528.6 L702.5 512.0 L705.7 489.3 L709.2 471.6 L711.6 462.8 L715.1 461.6 L720.4 465.7 L724.0 470.4 L725.7 483.4 L728.1 501.1 L730.0 512.0 L732.3 522.7 L735.2 552.2 L738.2 575.7 L741.2 600.0 L744.5 620.0 L747.5 635.0 L751.3 653.0 L756.0 676.6 L759.0 692.0 L761.5 708.0 L763.9 720.7 L768.0 732.0 L771.5 741.0 L775.2 745.0 L780.0 743.5 L784.5 749.0 L787.2 759.5 L789.6 768.9 L791.4 779.6 L796.3 789.5 L799.3 791.4 L802.2 787.5 L806.2 792.4 L809.1 801.3 L812.1 809.1 L814.5 812.6 L817.0 813.0 L819.0 813.7 L820.9 817.0 L822.8 820.4 L824.8 820.9 L826.8 821.5 L828.8 824.8 L831.2 826.1 L833.7 827.8 L836.2 828.8 L838.6 826.8 L840.3 822.2 L842.0 821.5 L844.0 822.6 L846.0 826.5 L848.0 824.6 L850.0 823.0 L852.5 826.7 L855.0 830.0 L857.4 832.7 L859.9 829.8 L862.3 831.8 L865.0 833.9 L867.8 834.1 L870.5 833.2 L873.3 836.8 L876.0 839.6 L878.8 841.4 L882.1 841.7 L885.4 840.7 L888.7 843.9 L892.0 844.5 L895.3 846.1 L898.6 847.0 L901.9 844.8 L905.2 842.8 L908.5 843.3 L911.8 844.8 L915.1 847.3 L918.4 846.3 L921.7 848.3 L925.0 849.3 L928.3 848.3 L931.6 846.7 L934.9 845.6 L938.2 846.5 L941.5 846.4 L944.8 846.7 L948.1 848.2 L951.4 847.8 L954.7 848.0 L958.0 847.9 L961.3 849.3 L964.6 850.8 L967.9 850.1 L971.2 850.1 L974.5 850.4 L977.8 848.9 L981.1 849.5 L984.4 850.5 L987.7 850.4 L991.0 850.1 L994.3 849.8 L997.6 849.4 L1000.9 850.7 L1004.2 850.8 L1007.5 849.8 L1010.8 850.8 L1014.1 850.6 L1017.4 850.8 L1020.7 851.5 L1024.0 851.5 L1027.3 850.3 L1030.6 850.4 L1033.9 850.8 L1037.2 851.1 L1040.5 851.6 L1043.8 850.8 L1047.1 850.2 L1050.4 850.3 L1053.7 850.4 L1057.0 850.2 L1060.3 849.9 L1063.6 850.3 L1066.9 851.7 L1070.2 851.9 L1073.5 851.6 L1076.8 852.0 L1080.1 851.5 L1083.4 850.5 L1086.7 850.3 L1090.0 850.6 L1093.3 851.5 L1096.6 851.4 L1099.9 850.5 L1103.2 850.9 L1106.5 851.8 L1109.8 851.6 L1113.1 851.2 L1116.4 851.4 L1119.7 850.7 L1123.0 850.5 L1126.3 850.5 L1129.6 850.7 L1132.9 851.0 L1136.2 851.6 L1139.5 851.5 L1142.8 851.7 L1146.1 851.9 L1149.4 852.1 L1152.7 852.2 L1156.0 851.8 L1159.3 852.2 L1162.6 852.2 L1165.9 851.5 L1169.2 850.9 L1172.5 851.0 L1175.8 851.4 L1179.1 851.5 L1182.4 851.7 L1185.7 852.1 L1189.0 852.0 L1192.3 851.2 L1195.6 851.3 L1198.9 851.2 L1202.2 851.7 L1205.5 851.9 L1208.8 851.3 L1212.1 851.3 L1215.4 851.5 L1218.7 852.0 L1222.0 852.0 L1225.3 851.9 L1228.6 851.5 L1231.9 851.4 L1235.2 851.6 L1238.5 851.9 L1241.8 851.2 L1245.1 851.1 L1248.4 851.9 L1251.7 852.1 L1255.0 852.1 L1258.3 852.0 L1261.6 851.8 L1264.9 851.7 L1268.2 852.1 L1271.5 851.9 L1274.8 851.3 L1278.1 851.1 L1281.4 851.6 L1281.6 851.8" fill="none" stroke="#00BAF0" stroke-width="4.6" stroke-linejoin="round" stroke-linecap="round"/>
<path d="M192.3 852.5 L195.6 852.4 L198.9 852.5 L202.2 852.5 L205.5 852.3 L208.8 852.1 L212.1 852.4 L215.4 852.3 L218.7 852.1 L222.0 851.9 L225.3 851.9 L228.6 852.2 L231.9 851.7 L235.2 851.7 L238.5 851.8 L241.8 852.4 L245.1 852.4 L248.4 851.9 L251.7 852.3 L255.0 852.3 L258.3 852.5 L261.6 852.5 L264.9 852.1 L268.2 851.6 L271.5 851.4 L274.8 851.3 L278.1 851.6 L281.4 851.6 L284.7 852.0 L288.0 851.6 L291.3 851.8 L294.6 851.4 L297.9 851.6 L301.2 851.9 L304.5 851.4 L307.8 851.0 L311.1 851.4 L314.4 852.1 L317.7 852.1 L321.0 851.2 L324.3 851.1 L327.6 851.4 L330.9 851.5 L334.2 851.8 L337.5 852.1 L340.8 851.9 L344.1 851.3 L347.4 850.6 L350.7 850.4 L354.0 850.5 L357.3 850.4 L360.6 851.0 L363.9 851.2 L367.2 850.8 L370.5 851.0 L373.8 850.7 L377.1 850.6 L380.4 851.1 L383.7 850.4 L387.0 850.0 L390.3 850.9 L393.6 850.7 L396.9 849.6 L400.2 849.6 L403.5 850.1 L406.8 849.7 L410.1 849.4 L413.4 848.8 L416.7 848.8 L420.0 849.4 L423.3 849.5 L426.6 849.3 L429.9 848.9 L433.2 849.3 L436.5 849.0 L439.8 849.6 L443.1 850.3 L446.4 849.6 L449.7 847.7 L453.0 848.0 L456.3 847.7 L459.6 847.6 L462.9 847.0 L466.2 847.1 L469.5 847.7 L472.8 847.7 L476.1 845.5 L479.4 845.0 L482.7 846.7 L486.0 845.5 L489.3 845.4 L492.6 846.9 L495.9 847.0 L499.2 845.5 L502.5 844.2 L505.8 842.3 L509.1 843.4 L512.4 845.4 L515.7 844.8 L519.0 842.4 L522.3 842.7 L525.6 839.7 L528.9 838.4 L532.2 841.6 L535.5 844.2 L538.8 840.9 L542.1 836.8 L545.4 839.4 L548.7 840.0 L552.0 839.9 L555.3 840.4 L560.0 837.0 L562.5 833.7 L565.0 836.0 L567.5 836.7 L570.0 834.0 L572.5 833.9 L575.0 831.1 L577.5 828.4 L580.0 830.0 L582.5 831.6 L585.0 825.9 L587.5 825.9 L590.0 826.0 L592.5 823.0 L595.0 824.9 L597.5 820.6 L600.0 820.0 L602.5 818.6 L605.0 817.0 L607.5 814.7 L610.0 810.0 L612.3 804.4 L614.7 801.7 L617.0 800.0 L619.0 796.1 L621.0 793.0 L622.9 789.1 L624.8 789.0 L627.4 786.3 L631.8 781.9 L635.4 773.0 L638.9 762.4 L643.3 750.9 L646.9 737.7 L650.4 728.8 L653.0 720.0 L654.6 715.2 L656.9 697.5 L658.1 692.8 L661.6 691.6 L666.3 685.7 L668.7 678.7 L672.8 673.9 L675.8 656.3 L678.1 652.7 L681.7 648.0 L685.2 632.7 L687.5 620.0 L691.0 605.2 L698.1 575.7 L705.2 546.3 L711.6 519.1 L719.3 522.7 L724.0 536.8 L728.7 552.2 L732.3 575.7 L735.8 599.3 L738.5 618.0 L740.7 623.6 L745.4 647.2 L748.7 665.0 L752.3 683.0 L755.8 700.0 L758.4 718.0 L761.5 726.6 L765.0 738.4 L767.3 756.0 L768.4 768.9 L769.8 782.0 L771.5 792.5 L773.5 801.0 L776.6 807.8 L780.0 809.5 L784.6 811.1 L790.0 816.0 L796.0 820.0 L802.0 823.0 L805.0 826.6 L808.0 826.0 L810.3 826.3 L812.7 827.4 L815.0 829.0 L817.3 828.0 L819.7 829.6 L822.0 832.0 L824.7 833.2 L827.3 834.6 L830.0 834.0 L832.7 832.6 L835.3 834.0 L838.0 836.0 L840.7 836.9 L843.3 835.5 L846.0 838.0 L848.7 839.7 L851.3 838.4 L854.0 840.0 L856.7 839.8 L859.3 839.7 L862.0 842.0 L865.3 842.8 L868.6 844.7 L871.9 841.7 L875.2 841.5 L878.5 842.5 L881.8 843.8 L885.1 847.5 L888.4 845.9 L891.7 843.3 L895.0 843.7 L898.3 844.1 L901.6 844.7 L904.9 845.9 L908.2 847.5 L911.5 845.8 L914.8 845.6 L918.1 846.8 L921.4 849.6 L924.7 848.4 L928.0 846.8 L931.3 847.4 L934.6 850.2 L937.9 851.3 L941.2 851.4 L944.5 851.3 L947.8 849.4 L951.1 848.6 L954.4 848.8 L957.7 848.5 L961.0 848.9 L964.3 849.5 L967.6 849.1 L970.9 850.5 L974.2 851.7 L977.5 850.5 L980.8 850.0 L984.1 850.5 L987.4 851.8 L990.7 851.7 L994.0 851.5 L997.3 851.0 L1000.6 852.3 L1003.9 852.5 L1007.2 852.2 L1010.5 852.2 L1013.8 852.1 L1017.1 851.3 L1020.4 851.7 L1023.7 851.4 L1027.0 850.4 L1030.3 850.3 L1033.6 851.1 L1036.9 851.9 L1040.2 851.7 L1043.5 850.9 L1046.8 850.8 L1050.1 851.8 L1053.4 851.9 L1056.7 852.2 L1060.0 851.9 L1063.3 852.0 L1066.6 851.9 L1069.9 851.1 L1073.2 851.2 L1076.5 851.3 L1079.8 851.6 L1083.1 851.0 L1086.4 851.2 L1089.7 852.0 L1093.0 852.4 L1096.3 851.9 L1099.6 851.5 L1102.9 851.6 L1106.2 851.7 L1109.5 852.1 L1112.8 852.2 L1116.1 852.0 L1119.4 851.6 L1122.7 851.7 L1126.0 852.2 L1129.3 852.6 L1132.6 852.5 L1135.9 852.1 L1139.2 852.3 L1142.5 852.3 L1145.8 851.9 L1149.1 852.2 L1152.4 852.2 L1155.7 851.6 L1159.0 851.5 L1162.3 851.5 L1165.6 852.1 L1168.9 851.9 L1172.2 851.9 L1175.5 852.0 L1178.8 852.2 L1182.1 852.1 L1185.4 852.2 L1188.7 851.6 L1192.0 851.5 L1195.3 851.5 L1198.6 851.3 L1201.9 851.5 L1205.2 851.8 L1208.5 851.6 L1211.8 851.9 L1215.1 852.4 L1218.4 852.6 L1221.7 852.6 L1225.0 852.0 L1228.3 851.6 L1231.6 851.7 L1234.9 852.0 L1238.2 851.5 L1241.5 851.5 L1244.8 851.7 L1248.1 851.9 L1251.4 851.9 L1254.7 851.9 L1258.0 852.3 L1261.3 852.0 L1264.6 851.4 L1267.9 851.3 L1271.2 851.7 L1274.5 851.9 L1277.8 852.3 L1281.1 852.2 L1281.6 851.8" fill="none" stroke="#C00020" stroke-width="4.6" stroke-linejoin="round" stroke-linecap="round"/>
<path d="M192.3 852.3 L195.6 852.0 L198.9 852.2 L202.2 852.2 L205.5 851.7 L208.8 852.0 L212.1 852.3 L215.4 852.3 L218.7 851.9 L222.0 851.5 L225.3 851.4 L228.6 851.4 L231.9 851.9 L235.2 851.7 L238.5 851.4 L241.8 851.2 L245.1 851.1 L248.4 851.1 L251.7 851.2 L255.0 851.3 L258.3 851.6 L261.6 851.9 L264.9 851.4 L268.2 851.2 L271.5 851.3 L274.8 851.4 L278.1 851.9 L281.4 851.7 L284.7 851.5 L288.0 851.6 L291.3 852.0 L294.6 851.7 L297.9 851.5 L301.2 851.7 L304.5 851.8 L307.8 851.9 L311.1 852.0 L314.4 851.7 L317.7 851.3 L321.0 851.2 L324.3 851.3 L327.6 850.9 L330.9 850.6 L334.2 850.6 L337.5 851.0 L340.8 851.1 L344.1 851.5 L347.4 851.3 L350.7 851.1 L354.0 851.3 L357.3 851.8 L360.6 851.9 L363.9 851.3 L367.2 850.6 L370.5 851.0 L373.8 850.4 L377.1 849.8 L380.4 849.6 L383.7 849.8 L387.0 850.4 L390.3 850.6 L393.6 850.4 L396.9 851.0 L400.2 850.7 L403.5 850.4 L406.8 849.8 L410.1 850.3 L413.4 849.8 L416.7 849.3 L420.0 848.9 L423.3 849.8 L426.6 850.2 L429.9 849.5 L433.2 848.5 L436.5 848.5 L439.8 848.6 L443.1 849.5 L446.4 849.2 L449.7 850.1 L453.0 850.0 L456.3 849.5 L459.6 848.6 L462.9 847.7 L466.2 848.9 L469.5 849.5 L472.8 848.0 L476.1 847.7 L479.4 847.0 L482.7 847.5 L486.0 846.5 L489.3 847.5 L492.6 847.9 L495.9 845.3 L499.2 843.5 L502.5 844.7 L505.8 843.6 L509.1 843.3 L512.4 842.3 L515.7 842.5 L519.0 844.5 L522.3 843.1 L525.6 839.8 L528.9 839.8 L532.2 844.2 L535.5 843.6 L538.8 843.8 L542.1 845.2 L545.4 844.2 L548.7 837.0 L552.0 835.3 L555.3 840.6 L560.0 838.0 L563.2 832.5 L566.5 833.7 L569.3 830.1 L572.2 829.8 L575.0 830.0 L577.7 830.0 L580.5 825.3 L583.2 825.4 L585.9 823.0 L588.9 822.4 L591.8 820.5 L594.8 818.6 L598.0 818.9 L601.3 814.6 L604.5 814.2 L607.0 812.5 L609.5 812.1 L612.0 808.0 L614.2 806.1 L616.5 803.1 L618.7 803.6 L620.9 795.6 L623.0 792.5 L625.5 786.1 L628.0 782.0 L633.0 773.0 L636.5 770.0 L639.8 766.0 L643.0 758.0 L646.0 750.9 L649.5 742.1 L653.0 737.7 L656.6 728.8 L659.0 722.0 L661.6 709.3 L664.0 699.9 L667.5 697.5 L673.4 690.4 L676.4 685.7 L681.7 673.9 L687.6 656.3 L691.1 638.6 L694.6 620.0 L698.1 599.3 L702.8 581.6 L707.5 563.9 L715.2 553.3 L721.1 561.6 L724.6 566.3 L727.6 581.6 L731.1 599.3 L734.8 617.7 L739.5 641.3 L743.0 658.9 L745.4 676.6 L748.9 686.0 L752.5 697.0 L755.0 706.0 L760.3 716.0 L765.0 725.4 L768.6 734.8 L770.9 744.3 L772.2 756.0 L774.5 768.0 L778.0 780.0 L781.5 790.0 L784.9 797.2 L789.6 802.0 L796.5 810.0 L802.2 816.0 L805.2 818.8 L808.1 818.9 L811.0 818.2 L814.0 820.9 L816.6 820.9 L819.3 823.9 L821.9 823.9 L824.2 824.6 L826.5 825.0 L828.8 827.8 L831.8 828.5 L834.7 831.7 L837.7 829.2 L840.6 830.7 L843.0 829.6 L845.5 832.7 L848.0 835.2 L850.4 836.6 L853.3 837.3 L856.3 834.7 L859.6 839.1 L862.9 838.9 L866.2 837.9 L869.5 837.9 L872.8 840.7 L876.1 840.3 L879.4 838.0 L882.7 838.5 L886.0 841.6 L889.3 839.9 L892.6 840.7 L895.9 844.0 L899.2 843.8 L902.5 843.3 L905.8 842.8 L909.1 843.0 L912.4 844.0 L915.7 842.5 L919.0 844.0 L922.3 845.8 L925.6 843.9 L928.9 844.3 L932.2 845.0 L935.5 844.3 L938.8 843.5 L942.1 843.7 L945.4 844.7 L948.7 846.7 L952.0 846.2 L955.3 846.6 L958.6 847.2 L961.9 846.0 L965.2 845.8 L968.5 845.9 L971.8 846.3 L975.1 847.5 L978.4 847.0 L981.7 847.6 L985.0 846.9 L988.3 847.4 L991.6 848.7 L994.9 848.7 L998.2 848.6 L1001.5 847.4 L1004.8 848.2 L1008.1 848.3 L1011.4 847.7 L1014.7 848.1 L1018.0 848.3 L1021.3 848.1 L1024.6 848.5 L1027.9 847.4 L1031.2 847.3 L1034.5 847.6 L1037.8 847.8 L1041.1 848.1 L1044.4 848.2 L1047.7 847.7 L1051.0 847.5 L1054.3 847.6 L1057.6 847.6 L1060.9 848.4 L1064.2 848.8 L1067.5 848.8 L1070.8 849.2 L1074.1 848.9 L1077.4 848.4 L1080.7 848.2 L1084.0 848.9 L1087.3 848.8 L1090.6 848.1 L1093.9 848.3 L1097.2 848.2 L1100.5 848.1 L1103.8 848.3 L1107.1 848.6 L1110.4 848.1 L1113.7 847.9 L1117.0 848.0 L1120.3 848.5 L1123.6 848.8 L1126.9 849.0 L1130.2 848.9 L1133.5 848.6 L1136.8 848.9 L1140.1 849.4 L1143.4 849.0 L1146.7 848.4 L1150.0 848.4 L1153.3 848.8 L1156.6 849.1 L1159.9 848.9 L1163.2 848.5 L1166.5 849.1 L1169.8 849.3 L1173.1 848.6 L1176.4 848.4 L1179.7 848.2 L1183.0 848.3 L1186.3 848.8 L1189.6 849.2 L1192.9 848.8 L1196.2 848.2 L1199.5 848.3 L1202.8 848.5 L1206.1 848.4 L1209.4 848.5 L1212.7 849.0 L1216.0 849.1 L1219.3 849.1 L1222.6 849.2 L1225.9 849.1 L1229.2 848.6 L1232.5 848.9 L1235.8 848.9 L1239.1 848.7 L1242.4 848.5 L1245.7 848.6 L1249.0 849.1 L1252.3 849.0 L1255.6 849.2 L1258.9 849.1 L1262.2 848.7 L1265.5 849.0 L1268.8 849.1 L1272.1 849.1 L1275.4 848.6 L1278.7 848.3 L1281.6 848.3" fill="none" stroke="#0070C0" stroke-width="4.6" stroke-linejoin="round" stroke-linecap="round"/>
<path d="M192.3 851.6 L195.6 851.5 L198.9 851.9 L202.2 852.4 L205.5 852.3 L208.8 852.1 L212.1 852.2 L215.4 852.1 L218.7 851.5 L222.0 851.2 L225.3 851.4 L228.6 851.8 L231.9 851.9 L235.2 851.6 L238.5 851.9 L241.8 851.9 L245.1 851.8 L248.4 851.6 L251.7 851.4 L255.0 851.9 L258.3 852.1 L261.6 851.6 L264.9 851.7 L268.2 851.8 L271.5 851.9 L274.8 851.8 L278.1 851.9 L281.4 851.6 L284.7 851.3 L288.0 851.2 L291.3 851.5 L294.6 851.9 L297.9 851.5 L301.2 851.3 L304.5 851.1 L307.8 851.1 L311.1 851.5 L314.4 851.1 L317.7 851.4 L321.0 851.5 L324.3 851.3 L327.6 851.7 L330.9 851.8 L334.2 851.4 L337.5 850.8 L340.8 851.4 L344.1 851.9 L347.4 851.7 L350.7 851.0 L354.0 850.5 L357.3 850.5 L360.6 851.2 L363.9 851.3 L367.2 850.4 L370.5 850.5 L373.8 850.3 L377.1 850.2 L380.4 851.0 L383.7 850.8 L387.0 850.5 L390.3 851.1 L393.6 851.3 L396.9 851.2 L400.2 850.8 L403.5 849.7 L406.8 850.1 L410.1 849.7 L413.4 849.4 L416.7 850.1 L420.0 850.4 L423.3 849.0 L426.6 848.3 L429.9 848.9 L433.2 849.7 L436.5 848.3 L439.8 848.1 L443.1 847.1 L446.4 846.4 L449.7 846.2 L453.0 846.4 L456.3 847.5 L459.6 848.5 L462.9 849.2 L466.2 847.8 L469.5 846.9 L472.8 845.7 L476.1 844.5 L479.4 845.5 L482.7 847.4 L486.0 847.2 L489.3 845.0 L492.6 847.1 L495.9 846.3 L499.2 844.0 L502.5 844.9 L505.8 843.8 L509.1 842.0 L512.4 844.3 L515.7 843.7 L519.0 845.6 L522.3 845.4 L525.6 841.5 L528.9 837.5 L532.2 836.5 L535.5 836.6 L538.8 839.6 L542.1 837.9 L545.4 841.7 L548.7 844.6 L552.0 841.8 L555.0 837.2 L557.4 841.1 L559.7 837.1 L562.1 839.0 L564.7 836.2 L567.4 837.1 L570.0 836.0 L573.3 833.7 L576.5 834.9 L579.8 831.9 L582.4 829.1 L585.1 825.6 L587.8 823.9 L590.4 824.8 L593.3 822.4 L596.3 825.4 L599.2 822.2 L601.6 824.9 L603.9 822.1 L606.3 821.3 L609.4 816.4 L612.5 812.4 L614.7 811.1 L616.9 810.7 L619.5 804.3 L622.2 803.6 L623.9 801.8 L625.6 799.6 L627.4 794.9 L629.2 790.7 L631.4 786.0 L633.6 781.9 L638.0 773.0 L642.4 764.2 L645.1 755.4 L649.5 750.9 L653.0 744.8 L656.6 735.9 L661.9 727.1 L664.5 721.0 L667.5 715.2 L669.9 697.5 L672.8 690.4 L676.4 695.2 L679.3 688.1 L684.0 681.0 L688.7 668.0 L693.5 650.4 L698.2 632.7 L701.5 620.0 L706.3 601.7 L715.2 585.8 L722.6 599.5 L726.5 611.8 L731.3 633.0 L736.0 653.0 L739.5 676.6 L741.9 692.0 L746.0 696.7 L749.7 708.9 L753.2 720.7 L756.8 732.5 L761.4 746.0 L766.1 759.0 L769.7 763.5 L773.3 764.5 L775.5 770.5 L778.7 779.6 L782.6 787.5 L786.5 794.4 L791.1 797.3 L795.4 802.2 L799.3 807.2 L803.2 815.0 L806.2 817.8 L809.1 820.9 L812.0 821.2 L815.0 822.9 L817.0 822.8 L818.9 826.8 L821.4 827.0 L823.9 829.7 L826.3 830.6 L828.8 832.7 L831.2 832.1 L833.7 834.7 L836.9 835.9 L840.0 837.0 L842.7 839.4 L845.3 837.3 L848.0 839.0 L850.7 838.3 L853.3 840.7 L856.0 841.0 L858.7 842.4 L861.3 840.1 L864.0 843.0 L867.3 841.5 L870.6 843.4 L873.9 841.1 L877.2 841.3 L880.5 844.4 L883.8 847.2 L887.1 846.4 L890.4 844.5 L893.7 845.9 L897.0 846.3 L900.3 844.8 L903.6 845.8 L906.9 847.0 L910.2 848.8 L913.5 849.1 L916.8 846.9 L920.1 847.4 L923.4 849.7 L926.7 850.6 L930.0 849.3 L933.3 847.9 L936.6 847.1 L939.9 847.6 L943.2 848.6 L946.5 849.0 L949.8 848.4 L953.1 849.1 L956.4 849.3 L959.7 849.8 L963.0 851.2 L966.3 851.8 L969.6 851.1 L972.9 850.6 L976.2 849.5 L979.5 850.0 L982.8 849.8 L986.1 849.8 L989.4 851.4 L992.7 851.0 L996.0 850.3 L999.3 849.7 L1002.6 850.0 L1005.9 850.7 L1009.2 851.5 L1012.5 851.6 L1015.8 851.3 L1019.1 851.1 L1022.4 852.0 L1025.7 852.0 L1029.0 850.9 L1032.3 850.7 L1035.6 851.3 L1038.9 851.1 L1042.2 851.5 L1045.5 851.0 L1048.8 851.3 L1052.1 851.7 L1055.4 851.7 L1058.7 851.0 L1062.0 851.4 L1065.3 851.1 L1068.6 850.9 L1071.9 851.1 L1075.2 851.3 L1078.5 851.2 L1081.8 851.9 L1085.1 851.5 L1088.4 851.1 L1091.7 851.4 L1095.0 851.7 L1098.3 851.0 L1101.6 851.1 L1104.9 851.5 L1108.2 852.2 L1111.5 851.9 L1114.8 851.9 L1118.1 852.1 L1121.4 851.3 L1124.7 851.5 L1128.0 852.0 L1131.3 852.0 L1134.6 852.2 L1137.9 852.3 L1141.2 851.7 L1144.5 852.1 L1147.8 852.2 L1151.1 851.8 L1154.4 851.4 L1157.7 852.1 L1161.0 852.2 L1164.3 851.8 L1167.6 852.0 L1170.9 852.0 L1174.2 852.2 L1177.5 851.9 L1180.8 851.6 L1184.1 852.1 L1187.4 852.0 L1190.7 852.0 L1194.0 851.9 L1197.3 852.1 L1200.6 852.0 L1203.9 851.9 L1207.2 852.1 L1210.5 852.3 L1213.8 852.3 L1217.1 851.6 L1220.4 851.2 L1223.7 851.5 L1227.0 851.8 L1230.3 851.4 L1233.6 851.7 L1236.9 852.1 L1240.2 851.7 L1243.5 851.4 L1246.8 851.5 L1250.1 852.1 L1253.4 851.8 L1256.7 851.6 L1260.0 851.2 L1263.3 851.3 L1266.6 851.3 L1269.9 851.7 L1273.2 852.1 L1276.5 852.1 L1279.8 851.7 L1281.6 851.6" fill="none" stroke="#FF5200" stroke-width="4.6" stroke-linejoin="round" stroke-linecap="round"/>
<path d="M192.3 855.6 L195.6 855.0 L198.9 854.8 L202.2 855.0 L205.5 854.9 L208.8 855.2 L212.1 855.4 L215.4 855.2 L218.7 855.5 L222.0 855.4 L225.3 855.4 L228.6 855.7 L231.9 855.3 L235.2 854.9 L238.5 855.2 L241.8 855.4 L245.1 855.0 L248.4 854.7 L251.7 855.1 L255.0 855.1 L258.3 855.0 L261.6 855.1 L264.9 854.8 L268.2 855.1 L271.5 855.7 L274.8 855.8 L278.1 855.7 L281.4 855.8 L284.7 855.4 L288.0 854.8 L291.3 854.9 L294.6 855.0 L297.9 854.7 L301.2 855.3 L304.5 855.4 L307.8 854.6 L311.1 854.8 L314.4 855.0 L317.7 854.8 L321.0 854.5 L324.3 854.9 L327.6 854.4 L330.9 854.1 L334.2 854.8 L337.5 854.7 L340.8 854.3 L344.1 854.4 L347.4 854.0 L350.7 854.1 L354.0 854.7 L357.3 854.1 L360.6 854.4 L363.9 854.8 L367.2 853.7 L370.5 853.6 L373.8 854.3 L377.1 854.8 L380.4 855.0 L383.7 854.6 L387.0 853.1 L390.3 852.9 L393.6 853.5 L396.9 853.4 L400.2 854.4 L403.5 855.0 L406.8 854.8 L410.1 854.2 L413.4 853.0 L416.7 853.9 L420.0 853.4 L423.3 853.3 L426.6 853.5 L429.9 852.3 L433.2 852.6 L436.5 851.4 L439.8 851.0 L443.1 852.0 L446.4 851.7 L449.7 853.1 L453.0 852.7 L456.3 851.8 L459.6 850.2 L462.9 850.2 L466.2 849.3 L469.5 849.2 L472.8 849.7 L476.1 851.2 L479.4 852.5 L482.7 852.3 L486.0 850.0 L489.3 849.3 L492.6 848.5 L495.9 848.0 L499.2 846.5 L502.5 847.8 L505.8 849.3 L509.1 849.0 L512.4 847.0 L515.7 844.7 L519.0 844.6 L522.3 846.9 L525.6 848.2 L528.9 844.6 L532.2 844.6 L535.5 844.2 L538.8 845.7 L542.1 844.0 L545.4 846.0 L548.7 842.8 L552.0 843.7 L555.0 842.0 L557.5 845.6 L560.0 843.0 L563.2 843.7 L566.5 851.0 L568.2 850.1 L570.0 842.5 L572.7 842.3 L575.3 842.7 L578.0 839.0 L581.1 835.9 L584.2 831.9 L586.0 832.1 L587.7 828.4 L590.4 828.2 L593.0 826.0 L595.3 824.6 L597.7 821.1 L600.0 823.0 L602.7 822.3 L605.3 820.1 L608.0 820.0 L610.4 818.0 L612.7 820.0 L615.1 816.0 L616.9 809.9 L618.7 808.9 L621.9 805.9 L625.0 801.0 L627.6 801.3 L630.2 796.6 L632.8 793.0 L635.4 790.7 L637.1 787.1 L638.9 787.2 L642.4 781.9 L646.0 771.3 L649.5 764.2 L653.0 755.4 L656.6 750.9 L660.1 742.1 L664.5 735.9 L667.2 728.8 L672.5 720.0 L676.0 718.0 L678.1 715.2 L682.8 697.5 L686.4 688.1 L690.0 677.0 L697.1 653.0 L704.1 631.8 L711.2 616.5 L718.9 623.6 L721.8 629.5 L724.2 641.3 L727.7 647.2 L731.3 664.8 L734.8 682.5 L738.3 700.2 L740.7 710.0 L744.8 720.0 L749.6 734.0 L754.4 750.1 L759.1 762.0 L763.9 774.0 L767.9 783.6 L772.8 787.5 L777.7 790.5 L780.6 797.3 L784.6 804.2 L789.5 808.1 L793.4 814.0 L797.3 818.0 L802.2 818.9 L804.2 820.6 L806.2 822.9 L808.2 825.0 L810.1 826.8 L812.5 826.3 L815.0 828.8 L817.0 829.9 L818.9 832.7 L820.9 836.8 L822.9 838.6 L825.8 835.9 L828.8 837.6 L831.2 838.6 L833.7 840.6 L836.2 838.7 L838.6 838.6 L841.0 839.5 L843.5 840.6 L846.0 840.4 L848.4 843.5 L851.7 846.7 L855.0 846.3 L858.3 846.2 L861.6 846.6 L864.9 845.3 L868.2 845.4 L871.5 849.2 L874.8 849.7 L878.1 847.7 L881.4 846.8 L884.7 849.7 L888.0 849.7 L891.3 849.7 L894.6 848.4 L897.9 850.2 L901.2 851.3 L904.5 848.9 L907.8 849.1 L911.1 852.5 L914.4 852.9 L917.7 851.0 L921.0 850.1 L924.3 851.2 L927.6 851.3 L930.9 850.6 L934.2 851.3 L937.5 852.1 L940.8 852.5 L944.1 853.7 L947.4 853.3 L950.7 853.1 L954.0 852.4 L957.3 852.7 L960.6 852.3 L963.9 851.8 L967.2 852.1 L970.5 852.6 L973.8 853.6 L977.1 852.9 L980.4 853.4 L983.7 854.0 L987.0 853.9 L990.3 853.9 L993.6 854.4 L996.9 854.1 L1000.2 853.7 L1003.5 854.3 L1006.8 853.7 L1010.1 854.4 L1013.4 854.8 L1016.7 855.1 L1020.0 854.4 L1023.3 853.8 L1026.6 853.9 L1029.9 854.7 L1033.2 854.5 L1036.5 854.3 L1039.8 855.0 L1043.1 854.5 L1046.4 854.4 L1049.7 854.3 L1053.0 854.7 L1056.3 854.4 L1059.6 853.7 L1062.9 854.0 L1066.2 854.8 L1069.5 854.5 L1072.8 854.3 L1076.1 854.6 L1079.4 854.7 L1082.7 853.9 L1086.0 853.8 L1089.3 854.0 L1092.6 854.1 L1095.9 854.1 L1099.2 854.3 L1102.5 855.3 L1105.8 855.7 L1109.1 855.3 L1112.4 854.1 L1115.7 854.2 L1119.0 855.1 L1122.3 855.3 L1125.6 855.4 L1128.9 855.3 L1132.2 854.6 L1135.5 854.6 L1138.8 854.3 L1142.1 854.2 L1145.4 854.2 L1148.7 854.4 L1152.0 855.0 L1155.3 855.2 L1158.6 854.7 L1161.9 855.0 L1165.2 854.5 L1168.5 854.4 L1171.8 855.0 L1175.1 854.4 L1178.4 854.4 L1181.7 854.8 L1185.0 855.0 L1188.3 854.8 L1191.6 854.4 L1194.9 854.4 L1198.2 854.5 L1201.5 855.0 L1204.8 855.2 L1208.1 854.8 L1211.4 854.8 L1214.7 854.8 L1218.0 855.2 L1221.3 855.0 L1224.6 854.9 L1227.9 854.9 L1231.2 854.7 L1234.5 854.7 L1237.8 854.9 L1241.1 854.8 L1244.4 855.1 L1247.7 855.4 L1251.0 855.3 L1254.3 855.1 L1257.6 855.3 L1260.9 855.0 L1264.2 854.8 L1267.5 854.9 L1270.8 855.0 L1274.1 854.6 L1277.4 855.2 L1280.7 855.5 L1281.6 855.2" fill="none" stroke="#FFB000" stroke-width="4.6" stroke-linejoin="round" stroke-linecap="round"/>
<path d="M192.3 855.0 L195.6 855.1 L198.9 855.5 L202.2 855.7 L205.5 855.6 L208.8 855.4 L212.1 855.2 L215.4 855.3 L218.7 855.4 L222.0 855.7 L225.3 855.5 L228.6 855.4 L231.9 855.1 L235.2 855.0 L238.5 855.3 L241.8 855.5 L245.1 855.3 L248.4 855.1 L251.7 855.7 L255.0 855.9 L258.3 855.6 L261.6 855.6 L264.9 855.4 L268.2 855.2 L271.5 855.4 L274.8 855.2 L278.1 855.6 L281.4 855.4 L284.7 855.8 L288.0 855.8 L291.3 855.2 L294.6 855.3 L297.9 854.9 L301.2 854.9 L304.5 854.9 L307.8 854.8 L311.1 855.3 L314.4 855.6 L317.7 855.1 L321.0 854.5 L324.3 854.5 L327.6 854.4 L330.9 854.4 L334.2 854.4 L337.5 854.6 L340.8 854.9 L344.1 854.6 L347.4 854.7 L350.7 855.2 L354.0 854.5 L357.3 854.5 L360.6 854.2 L363.9 854.2 L367.2 854.3 L370.5 854.2 L373.8 854.6 L377.1 854.6 L380.4 854.3 L383.7 854.2 L387.0 854.3 L390.3 854.6 L393.6 854.7 L396.9 854.3 L400.2 855.2 L403.5 855.3 L406.8 854.5 L410.1 853.3 L413.4 853.0 L416.7 853.0 L420.0 853.3 L423.3 854.8 L426.6 854.5 L429.9 853.8 L433.2 854.1 L436.5 854.3 L439.8 853.1 L443.1 852.7 L446.4 852.8 L449.7 852.7 L453.0 852.2 L456.3 853.0 L459.6 854.3 L462.9 854.2 L466.2 852.7 L469.5 851.2 L472.8 851.4 L476.1 853.2 L479.4 852.8 L482.7 853.4 L486.0 851.4 L489.3 851.6 L492.6 853.1 L495.9 850.6 L499.2 849.3 L502.5 850.9 L505.8 850.8 L509.1 850.6 L512.4 848.8 L515.7 847.9 L519.0 851.3 L522.3 851.3 L525.6 849.0 L528.9 848.6 L532.2 846.2 L535.5 848.2 L538.8 848.5 L542.1 848.6 L545.4 852.3 L548.7 853.5 L552.0 849.4 L555.3 843.4 L560.0 846.0 L562.9 847.6 L565.8 847.8 L568.7 844.8 L571.6 844.5 L574.5 847.8 L576.8 847.4 L579.2 845.2 L581.5 846.9 L583.9 843.4 L586.2 838.7 L588.6 839.0 L591.3 837.4 L594.0 834.0 L596.6 835.4 L599.2 830.1 L601.9 825.8 L604.5 826.6 L607.1 828.5 L609.8 824.8 L612.2 819.8 L614.5 824.1 L616.9 819.5 L619.0 819.2 L621.0 815.0 L623.4 815.5 L625.7 809.8 L627.5 809.7 L629.2 804.9 L631.4 799.9 L633.6 801.3 L635.4 796.4 L637.1 797.8 L639.5 796.4 L642.0 790.0 L647.7 781.9 L651.3 773.0 L654.8 764.2 L658.4 758.0 L661.9 746.5 L663.7 739.5 L667.2 737.7 L670.7 733.3 L674.3 725.3 L677.8 720.0 L681.7 717.6 L686.4 703.4 L690.0 694.3 L695.9 676.6 L701.8 660.1 L707.1 657.8 L711.2 644.8 L715.3 647.2 L720.6 661.3 L725.4 673.1 L728.9 682.5 L732.4 700.2 L735.5 712.0 L738.9 727.7 L743.6 741.8 L747.0 757.0 L749.5 772.5 L754.2 783.1 L760.0 793.0 L766.9 801.3 L772.8 809.1 L778.7 810.1 L782.6 817.0 L786.5 820.9 L793.0 825.0 L799.3 830.7 L804.2 834.7 L806.5 833.3 L808.8 837.2 L811.1 835.6 L813.5 836.6 L816.0 838.6 L819.0 839.8 L821.9 840.6 L824.3 840.6 L826.8 844.5 L828.8 849.4 L830.7 851.4 L833.7 850.4 L836.6 848.4 L839.2 847.6 L841.9 846.5 L844.5 846.4 L846.5 851.1 L848.4 852.3 L850.6 851.8 L852.8 851.8 L855.0 850.5 L857.3 850.0 L859.7 851.6 L862.0 853.0 L864.7 849.9 L867.3 850.9 L870.0 849.5 L872.7 849.2 L875.3 852.1 L878.0 852.5 L880.7 853.2 L883.3 852.0 L886.0 851.0 L889.0 850.4 L892.0 851.0 L895.0 853.5 L897.5 851.1 L900.0 851.5 L902.5 853.7 L905.0 851.5 L907.5 853.3 L910.0 851.3 L912.5 852.8 L915.0 852.0 L917.5 851.7 L920.0 850.7 L922.5 849.2 L925.0 851.0 L927.5 853.4 L930.0 854.1 L932.5 854.2 L935.0 853.5 L937.5 851.4 L940.0 851.9 L942.5 851.8 L945.0 852.0 L947.5 851.1 L950.0 854.5 L952.5 853.8 L955.0 853.8 L957.5 855.6 L960.0 854.3 L962.5 850.7 L965.0 852.5 L968.3 852.5 L971.6 852.7 L974.9 852.6 L978.2 853.9 L981.5 851.5 L984.8 850.8 L988.1 853.7 L991.4 855.6 L994.7 854.4 L998.0 852.2 L1001.3 854.7 L1004.6 856.2 L1007.9 855.5 L1011.2 854.2 L1014.5 854.4 L1017.8 855.5 L1021.1 855.0 L1024.4 854.3 L1027.7 852.9 L1031.0 851.8 L1034.3 853.0 L1037.6 855.2 L1040.9 855.6 L1044.2 855.4 L1047.5 854.0 L1050.8 854.2 L1054.1 855.1 L1057.4 854.2 L1060.7 854.4 L1064.0 855.4 L1067.3 855.1 L1070.6 852.9 L1073.9 852.7 L1077.2 853.4 L1080.5 853.1 L1083.8 853.2 L1087.1 854.6 L1090.4 855.0 L1093.7 855.9 L1097.0 855.7 L1100.3 854.6 L1103.6 855.0 L1106.9 853.7 L1110.2 853.5 L1113.5 854.1 L1116.8 855.0 L1120.1 854.8 L1123.4 854.8 L1126.7 853.9 L1130.0 854.3 L1133.3 855.2 L1136.6 855.0 L1139.9 855.2 L1143.2 855.0 L1146.5 853.8 L1149.8 854.0 L1153.1 854.5 L1156.4 854.2 L1159.7 854.5 L1163.0 853.9 L1166.3 854.2 L1169.6 854.8 L1172.9 855.1 L1176.2 854.5 L1179.5 854.2 L1182.8 854.2 L1186.1 853.7 L1189.4 853.8 L1192.7 855.1 L1196.0 855.3 L1199.3 854.4 L1202.6 853.9 L1205.9 853.6 L1209.2 853.8 L1212.5 853.8 L1215.8 853.8 L1219.1 854.1 L1222.4 854.4 L1225.7 854.5 L1229.0 854.0 L1232.3 853.9 L1235.6 854.1 L1238.9 854.3 L1242.2 854.7 L1245.5 854.6 L1248.8 854.5 L1252.1 854.4 L1255.4 854.3 L1258.7 854.0 L1262.0 854.2 L1265.3 855.0 L1268.6 855.1 L1271.9 854.6 L1275.2 854.9 L1278.5 854.4 L1281.6 854.1" fill="none" stroke="#8C2496" stroke-width="4.6" stroke-linejoin="round" stroke-linecap="round"/>
<path d="M192.3 855.2 L195.6 855.2 L198.9 855.1 L202.2 855.3 L205.5 855.5 L208.8 855.4 L212.1 855.2 L215.4 855.2 L218.7 855.3 L222.0 855.4 L225.3 855.6 L228.6 855.5 L231.9 855.6 L235.2 855.6 L238.5 855.4 L241.8 855.2 L245.1 855.2 L248.4 855.4 L251.7 855.6 L255.0 855.4 L258.3 855.2 L261.6 855.3 L264.9 855.3 L268.2 855.2 L271.5 855.5 L274.8 855.7 L278.1 855.7 L281.4 855.7 L284.7 855.7 L288.0 855.6 L291.3 855.2 L294.6 855.0 L297.9 855.1 L301.2 855.0 L304.5 855.0 L307.8 855.5 L311.1 855.6 L314.4 855.5 L317.7 855.4 L321.0 855.3 L324.3 855.4 L327.6 855.2 L330.9 855.2 L334.2 855.3 L337.5 855.2 L340.8 855.1 L344.1 854.8 L347.4 854.8 L350.7 854.6 L354.0 854.5 L357.3 855.0 L360.6 854.9 L363.9 854.5 L367.2 855.0 L370.5 854.8 L373.8 854.2 L377.1 854.8 L380.4 855.1 L383.7 854.4 L387.0 854.8 L390.3 854.8 L393.6 854.1 L396.9 854.7 L400.2 854.7 L403.5 854.8 L406.8 854.7 L410.1 854.7 L413.4 854.9 L416.7 855.0 L420.0 853.9 L435.2 852.4 L450.4 853.9 L465.6 850.8 L473.2 846.3 L480.8 850.8 L488.4 853.9 L503.7 850.8 L518.9 852.4 L534.1 847.8 L549.3 846.3 L555.0 851.3 L559.4 852.2 L563.8 846.9 L570.0 845.2 L577.1 843.4 L584.2 840.7 L588.6 839.8 L593.0 846.9 L596.6 839.0 L600.1 831.9 L604.5 830.1 L609.8 831.0 L615.1 825.7 L620.4 826.6 L624.0 819.5 L627.2 812.0 L630.2 808.0 L634.6 807.1 L638.0 804.0 L642.0 796.0 L645.1 789.0 L648.6 783.7 L653.0 777.5 L658.4 769.5 L662.8 759.8 L666.3 750.9 L669.0 743.0 L673.4 742.1 L677.8 737.7 L681.3 726.2 L684.0 719.0 L688.7 712.8 L690.0 709.6 L695.9 694.3 L701.8 682.5 L707.1 670.7 L712.4 674.3 L715.9 680.2 L720.1 680.8 L723.0 689.6 L726.5 700.2 L729.5 710.0 L734.2 721.8 L736.5 739.5 L743.6 747.7 L747.2 757.2 L749.5 768.9 L755.4 776.0 L758.9 786.6 L761.3 798.4 L764.0 806.0 L767.9 809.1 L774.7 820.9 L779.6 826.8 L784.6 833.7 L789.5 830.7 L793.9 824.8 L797.3 831.7 L802.2 837.6 L807.2 840.6 L813.0 841.5 L818.9 846.4 L823.9 848.4 L828.8 847.4 L834.7 846.4 L838.6 852.3 L843.5 842.5 L848.4 844.5 L853.3 846.4 L858.2 848.4 L862.3 849.7 L871.9 842.8 L878.8 851.0 L885.6 852.4 L892.5 846.9 L898.0 849.7 L906.3 851.0 L914.5 848.3 L924.2 851.0 L931.0 848.3 L942.0 849.7 L947.0 851.0 L953.9 849.7 L963.0 852.0 L972.1 853.4 L981.2 852.9 L990.4 852.0 L999.5 853.8 L1010.0 854.7 L1013.3 854.7 L1016.6 855.1 L1019.9 855.1 L1023.2 854.7 L1026.5 854.3 L1029.8 854.4 L1033.1 854.5 L1036.4 854.7 L1039.7 855.2 L1043.0 855.6 L1046.3 855.8 L1049.6 855.7 L1052.9 855.6 L1056.2 855.2 L1059.5 855.5 L1062.8 855.3 L1066.1 855.1 L1069.4 855.0 L1072.7 855.2 L1076.0 855.8 L1079.3 855.7 L1082.6 855.2 L1085.9 855.4 L1089.2 855.8 L1092.5 855.7 L1095.8 855.5 L1099.1 855.4 L1102.4 855.4 L1105.7 855.4 L1109.0 855.3 L1112.3 855.4 L1115.6 855.5 L1118.9 855.5 L1122.2 855.7 L1125.5 855.5 L1128.8 855.3 L1132.1 855.5 L1135.4 855.4 L1138.7 855.7 L1142.0 855.8 L1145.3 855.6 L1148.6 855.4 L1151.9 855.5 L1155.2 855.6 L1158.5 855.8 L1161.8 855.8 L1165.1 855.8 L1168.4 855.8 L1171.7 855.7 L1175.0 855.7 L1178.3 855.8 L1181.6 855.6 L1184.9 855.7 L1188.2 855.6 L1191.5 855.6 L1194.8 855.7 L1198.1 855.5 L1201.4 855.3 L1204.7 855.3 L1208.0 855.5 L1211.3 855.7 L1214.6 855.6 L1217.9 855.7 L1221.2 855.7 L1224.5 855.8 L1227.8 855.8 L1231.1 855.5 L1234.4 855.4 L1237.7 855.4 L1241.0 855.4 L1244.3 855.6 L1247.6 855.6 L1250.9 855.5 L1254.2 855.4 L1257.5 855.6 L1260.8 855.6 L1264.1 855.6 L1267.4 855.6 L1270.7 855.4 L1274.0 855.3 L1277.3 855.3 L1280.6 855.4 L1281.6 855.6" fill="none" stroke="#55B214" stroke-width="4.6" stroke-linejoin="round" stroke-linecap="round"/></g>
<g filter="url(#ft)"><text x="172" y="875.0" text-anchor="end" font-size="50" fill="#161616">0</text>
<text x="144.2" y="756.3" text-anchor="end" font-size="50" fill="#161616">0.0</text>
<path d="M161.2 756.3 V721.9 M161.5 722.1 L150.2 731.5" fill="none" stroke="#161616" stroke-width="4.3" stroke-linecap="butt" stroke-linejoin="miter"/>
<text x="172" y="637.6" text-anchor="end" font-size="50" fill="#161616">0.02</text>
<text x="172" y="519.0" text-anchor="end" font-size="50" fill="#161616">0.03</text>
<text x="172" y="400.3" text-anchor="end" font-size="50" fill="#161616">0.04</text>
<text x="172" y="281.6" text-anchor="end" font-size="50" fill="#161616">0.05</text>
<text x="172" y="162.9" text-anchor="end" font-size="50" fill="#161616">0.06</text>
<text x="172" y="44.2" text-anchor="end" font-size="50" fill="#161616">0.07</text>
<text x="190.8" y="925" text-anchor="middle" font-size="50" fill="#161616">0</text>
<text x="408.7" y="925" text-anchor="middle" font-size="50" fill="#161616">2</text>
<text x="626.5" y="925" text-anchor="middle" font-size="50" fill="#161616">4</text>
<text x="844.4" y="925" text-anchor="middle" font-size="50" fill="#161616">6</text>
<text x="1062.2" y="925" text-anchor="middle" font-size="50" fill="#161616">8</text>
<text x="1309.4" y="925" text-anchor="end" font-size="50" fill="#161616">0</text>
<path d="M1269.4 925.0 V890.5 M1269.7 890.7 L1258.4 900.0" fill="none" stroke="#161616" stroke-width="4.3" stroke-linecap="butt" stroke-linejoin="miter"/>
<text transform="translate(732.6 999) scale(1 1.03)" x="0" y="0" text-anchor="middle" font-size="55.3" fill="#161616">Frequency (MHz)</text>
<text transform="translate(51.0 442.7) rotate(-90) scale(1 1.04)" x="0" y="0" text-anchor="middle" font-size="55" fill="#161616">Magnitude (a.u.)</text>
<text transform="translate(962.71 91.6) scale(0.7807 1)" x="0" y="0" font-size="55" font-weight="bold" fill="#000" style="stroke:#000;stroke-width:0.8px">F</text>
<text transform="translate(989.75 91.6) scale(0.7948 1)" x="0" y="0" font-size="55" font-weight="bold" fill="#000" style="stroke:#000;stroke-width:0.8px">c</text>
<text transform="translate(1014.64 91.6) scale(1.0649 1)" x="0" y="0" font-size="55" font-weight="bold" fill="#000" style="stroke:#000;stroke-width:0.8px">:</text>
<text transform="translate(1044.71 91.6) scale(0.9550 1)" x="0" y="0" font-size="55" font-weight="bold" fill="#000" style="stroke:#000;stroke-width:0.8px">4</text>
<text transform="translate(1074.65 91.6) scale(1.1558 1)" x="0" y="0" font-size="55" font-weight="bold" fill="#000" style="stroke:#000;stroke-width:0.8px">.</text>
<text transform="translate(1093.27 91.6) scale(0.9293 1)" x="0" y="0" font-size="55" font-weight="bold" fill="#000" style="stroke:#000;stroke-width:0.8px">8</text>
<text transform="translate(1136.78 91.6) scale(1.1818 1)" x="0" y="0" font-size="55" font-weight="bold" fill="#000" style="stroke:#000;stroke-width:0.8px">M</text>
<text transform="translate(1191.02 91.6) scale(0.9461 1)" x="0" y="0" font-size="55" font-weight="bold" fill="#000" style="stroke:#000;stroke-width:0.8px">H</text>
<text transform="translate(1229.34 91.6) scale(0.8898 1)" x="0" y="0" font-size="55" font-weight="bold" fill="#000" style="stroke:#000;stroke-width:0.8px">z</text>
<text transform="translate(825.86 164.7) scale(0.9419 1)" x="0" y="0" font-size="55" font-weight="bold" font-style="italic" fill="#000" style="stroke:#000;stroke-width:0.8px">H</text>
<text transform="translate(865.33 164.7) scale(0.8783 1)" x="0" y="0" font-size="55" font-weight="bold" font-style="italic" fill="#000" style="stroke:#000;stroke-width:0.8px">P</text>
<text transform="translate(897.87 164.7) scale(0.8448 1)" x="0" y="0" font-size="55" font-weight="bold" font-style="italic" fill="#000" style="stroke:#000;stroke-width:0.8px">B</text>
<text transform="translate(930.85 164.7) scale(1.0290 1)" x="0" y="0" font-size="55" font-weight="bold" font-style="italic" fill="#000" style="stroke:#000;stroke-width:0.8px">:</text>
<text transform="translate(961.91 164.7) scale(0.9584 1)" x="0" y="0" font-size="55" font-weight="bold" fill="#000" style="stroke:#000;stroke-width:0.8px">4</text>
<text transform="translate(991.25 164.7) scale(1.1818 1)" x="0" y="0" font-size="55" font-weight="bold" fill="#000" style="stroke:#000;stroke-width:0.8px">.</text>
<text transform="translate(1009.52 164.7) scale(0.9222 1)" x="0" y="0" font-size="55" font-weight="bold" fill="#000" style="stroke:#000;stroke-width:0.8px">6</text>
<text transform="translate(1038.37 164.7) scale(1.1052 1)" x="0" y="0" font-size="55" font-weight="bold" fill="#000" style="stroke:#000;stroke-width:0.8px">-</text>
<text transform="translate(1060.33 164.7) scale(0.9491 1)" x="0" y="0" font-size="55" font-weight="bold" fill="#000" style="stroke:#000;stroke-width:0.8px">5</text>
<text transform="translate(1089.05 164.7) scale(1.1818 1)" x="0" y="0" font-size="55" font-weight="bold" fill="#000" style="stroke:#000;stroke-width:0.8px">.</text>
<text transform="translate(1106.36 164.7) scale(0.9619 1)" x="0" y="0" font-size="55" font-weight="bold" fill="#000" style="stroke:#000;stroke-width:0.8px">1</text>
<text transform="translate(1136.78 164.7) scale(1.1818 1)" x="0" y="0" font-size="55" font-weight="bold" fill="#000" style="stroke:#000;stroke-width:0.8px">M</text>
<text transform="translate(1191.02 164.7) scale(0.9461 1)" x="0" y="0" font-size="55" font-weight="bold" fill="#000" style="stroke:#000;stroke-width:0.8px">H</text>
<text transform="translate(1229.34 164.7) scale(0.8898 1)" x="0" y="0" font-size="55" font-weight="bold" fill="#000" style="stroke:#000;stroke-width:0.8px">z</text></g>
</svg>
</body></html>
